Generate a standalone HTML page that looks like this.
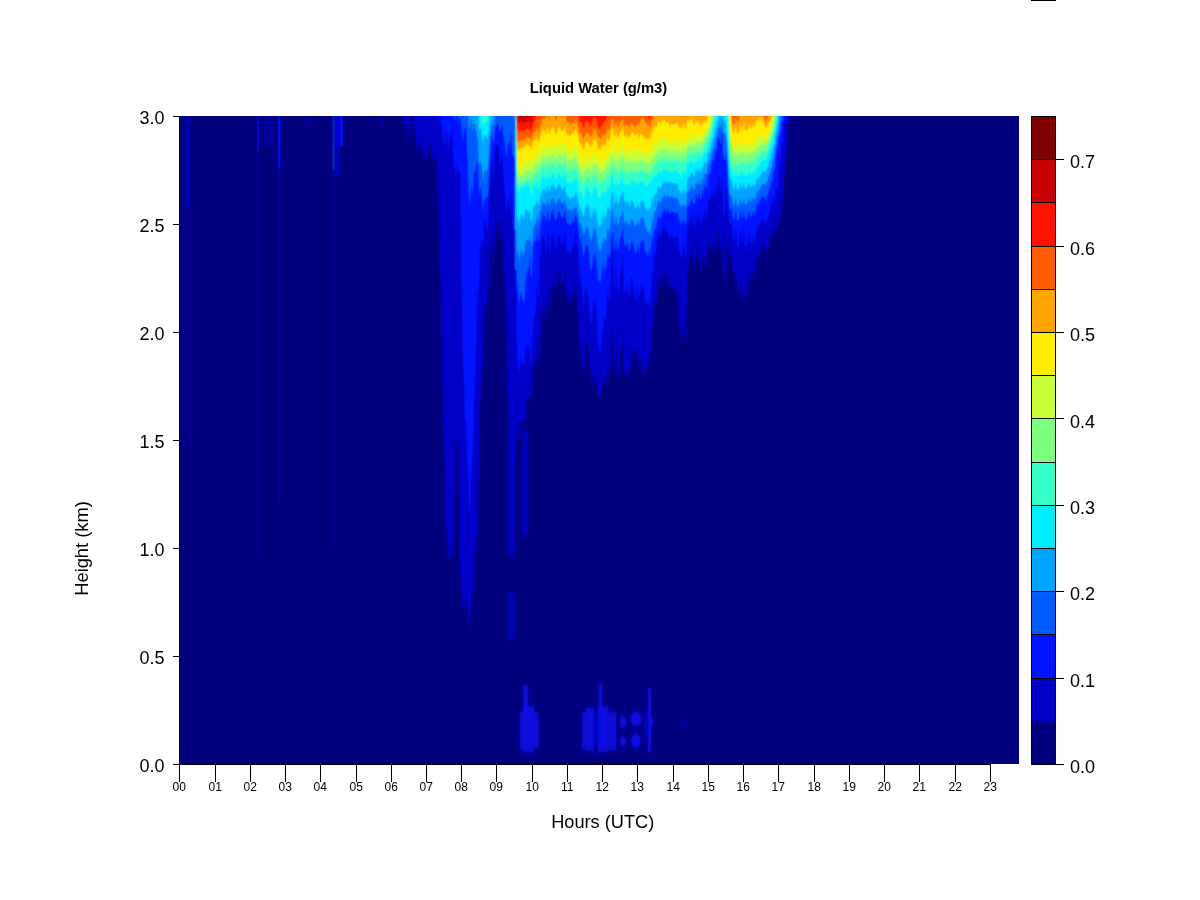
<!DOCTYPE html>
<html lang="en"><head><meta charset="utf-8"><title>Liquid Water (g/m3)</title>
<style>
html,body{margin:0;padding:0;background:#fff;}
body{width:1200px;height:900px;position:relative;overflow:hidden;font-family:"Liberation Sans",Arial,sans-serif;}
</style></head><body>
<svg width="1200" height="900" viewBox="0 0 1200 900" style="position:absolute;left:0;top:0">
<defs><filter id="bl" x="-2%" y="-2%" width="104%" height="104%"><feGaussianBlur stdDeviation="0.8"/></filter><filter id="bl2" x="-2%" y="-2%" width="104%" height="104%"><feGaussianBlur stdDeviation="1.3 2.5"/></filter><clipPath id="cp"><rect x="179.0" y="116.0" width="840.0" height="648.0"/></clipPath></defs>
<rect x="179.0" y="116.0" width="840.0" height="648.0" fill="#00007F"/>
<g clip-path="url(#cp)"><g>
<path d="M403.5 110.0L404.0 117.3L405.0 129.0L406.0 125.7L407.0 125.1L408.0 134.7L409.0 139.1L410.0 122.1L410.5 110.0ZM412.5 110.0L413.0 124.7L414.0 128.9L415.0 131.5L416.0 149.9L417.0 138.9L418.0 154.3L419.0 147.8L420.0 141.1L421.0 140.0L422.0 145.6L423.0 162.7L424.0 148.7L425.0 155.0L426.0 160.4L427.0 152.2L428.0 155.1L429.0 141.5L430.0 137.2L431.0 142.7L432.0 161.5L433.0 158.6L434.0 152.9L435.0 162.7L436.0 161.9L437.0 156.2L438.0 175.1L439.0 222.8L440.0 246.8L441.0 297.9L442.0 342.6L443.0 399.6L444.0 440.4L445.0 464.9L446.0 534.3L447.0 522.4L448.0 540.7L449.0 559.6L450.0 538.5L451.0 545.9L452.0 531.5L453.0 557.3L454.0 504.0L455.0 431.6L456.0 445.3L457.0 425.1L458.0 434.4L459.0 505.0L460.0 573.1L461.0 575.7L462.0 598.7L463.0 612.8L464.0 598.7L465.0 606.2L466.0 582.8L467.0 602.7L468.0 608.4L469.0 627.2L470.0 628.9L471.0 597.6L472.0 589.0L473.0 590.0L474.0 553.5L475.0 551.9L476.0 541.9L477.0 536.2L478.0 486.6L479.0 469.8L480.0 404.9L481.0 380.3L482.0 366.4L483.0 367.2L484.0 317.7L485.0 309.0L486.0 303.4L487.0 304.5L488.0 291.4L489.0 282.9L490.0 248.8L491.0 237.7L492.0 236.1L493.0 256.8L494.0 265.4L495.0 230.6L496.0 220.4L497.0 220.4L498.0 218.5L499.0 231.2L500.0 240.6L501.0 232.5L502.0 221.9L503.0 241.0L504.0 261.5L505.0 283.0L506.0 315.8L507.0 359.2L508.0 398.2L509.0 430.8L510.0 442.5L511.0 419.4L512.0 450.6L513.0 457.0L514.0 458.8L515.0 455.9L516.0 436.8L517.0 433.3L518.0 422.1L519.0 442.6L520.0 426.1L521.0 417.8L522.0 422.4L523.0 420.8L524.0 426.3L525.0 411.5L526.0 401.5L527.0 401.4L528.0 396.2L529.0 399.3L530.0 387.6L531.0 400.9L532.0 394.3L533.0 372.9L534.0 364.1L535.0 359.7L536.0 353.2L537.0 337.4L538.0 357.6L539.0 368.0L540.0 342.3L541.0 332.3L542.0 311.3L543.0 302.9L544.0 309.3L545.0 306.1L546.0 326.4L547.0 302.0L548.0 284.8L549.0 317.4L550.0 306.3L551.0 282.8L552.0 288.7L553.0 271.9L554.0 279.3L555.0 292.0L556.0 287.3L557.0 283.4L558.0 272.0L559.0 272.6L560.0 269.3L561.0 283.4L562.0 281.1L563.0 285.3L564.0 274.2L565.0 268.7L566.0 286.0L567.0 297.7L568.0 296.8L569.0 298.1L570.0 302.0L571.0 303.6L572.0 290.0L573.0 296.8L574.0 296.0L575.0 283.5L576.0 280.3L577.0 296.8L578.0 306.0L579.0 331.7L580.0 356.0L581.0 342.2L582.0 361.4L583.0 372.9L584.0 375.4L585.0 350.5L586.0 339.5L587.0 340.5L588.0 342.3L589.0 349.9L590.0 364.4L591.0 382.7L592.0 387.7L593.0 370.7L594.0 372.8L595.0 385.6L596.0 361.0L597.0 379.5L598.0 398.5L599.0 397.5L600.0 396.7L601.0 391.4L602.0 374.5L603.0 387.9L604.0 373.0L605.0 382.5L606.0 390.9L607.0 367.6L608.0 359.7L609.0 379.0L610.0 372.2L611.0 341.4L612.0 328.4L613.0 330.6L614.0 364.9L615.0 371.9L616.0 344.1L617.0 364.9L618.0 379.9L619.0 368.0L620.0 350.7L621.0 356.8L622.0 342.9L623.0 334.1L624.0 375.1L625.0 373.2L626.0 363.8L627.0 379.5L628.0 363.1L629.0 375.7L630.0 379.3L631.0 353.0L632.0 347.6L633.0 349.3L634.0 347.0L635.0 360.4L636.0 351.2L637.0 354.1L638.0 344.6L639.0 375.3L640.0 362.3L641.0 358.3L642.0 363.7L643.0 377.6L644.0 361.8L645.0 378.9L646.0 369.3L647.0 367.2L648.0 369.0L649.0 349.4L650.0 360.5L651.0 342.0L652.0 318.9L653.0 332.7L654.0 305.3L655.0 301.1L656.0 304.7L657.0 293.8L658.0 276.6L659.0 280.2L660.0 282.8L661.0 290.8L662.0 269.9L663.0 278.4L664.0 272.2L665.0 268.2L666.0 283.1L667.0 277.3L668.0 274.6L669.0 283.2L670.0 291.7L671.0 282.1L672.0 287.6L673.0 286.5L674.0 286.5L675.0 293.9L676.0 287.7L677.0 290.2L678.0 291.0L679.0 317.5L680.0 320.4L681.0 331.9L682.0 344.0L683.0 322.6L684.0 333.8L685.0 340.0L686.0 326.4L687.0 281.8L688.0 262.4L689.0 267.9L690.0 256.0L691.0 253.8L692.0 247.0L693.0 258.9L694.0 264.4L695.0 266.2L696.0 245.1L697.0 255.7L698.0 260.2L699.0 247.0L700.0 264.9L701.0 272.6L702.0 251.2L703.0 265.8L704.0 255.6L705.0 252.4L706.0 267.9L707.0 266.9L708.0 242.6L709.0 244.8L710.0 250.1L711.0 244.9L712.0 238.0L713.0 241.1L714.0 257.8L715.0 236.3L716.0 249.2L717.0 248.9L718.0 228.7L719.0 233.9L720.0 247.2L721.0 249.4L722.0 232.9L723.0 269.0L724.0 275.5L725.0 279.1L726.0 244.2L727.0 239.3L728.0 234.3L729.0 260.3L730.0 257.4L731.0 251.8L732.0 258.2L733.0 274.1L734.0 278.9L735.0 267.6L736.0 263.1L737.0 287.6L738.0 289.3L739.0 295.5L740.0 281.5L741.0 274.8L742.0 298.7L743.0 295.0L744.0 276.3L745.0 303.1L746.0 296.2L747.0 293.3L748.0 268.7L749.0 283.3L750.0 268.0L751.0 281.1L752.0 275.9L753.0 268.2L754.0 269.8L755.0 276.9L756.0 262.7L757.0 254.2L758.0 260.3L759.0 255.3L760.0 249.7L761.0 248.6L762.0 245.4L763.0 246.3L764.0 247.9L765.0 247.2L766.0 254.4L767.0 246.8L768.0 247.0L769.0 240.3L770.0 240.2L771.0 232.8L772.0 234.0L773.0 226.6L774.0 237.5L775.0 234.7L776.0 221.4L777.0 222.4L778.0 233.6L779.0 209.3L780.0 221.5L781.0 209.1L782.0 197.6L783.0 202.7L784.0 179.4L785.0 165.3L786.0 157.7L787.0 148.9L788.0 124.2L789.0 121.9L790.0 116.3L790.5 110.0Z" fill="#0000C8"/>
<path d="M422.5 110.0L423.0 117.1L423.5 110.0ZM437.5 110.0L438.0 118.2L439.0 127.2L439.5 110.0ZM440.5 110.0L441.0 122.9L442.0 127.0L443.0 143.4L444.0 143.6L445.0 127.5L446.0 156.3L447.0 131.4L448.0 136.7L449.0 155.4L450.0 134.1L451.0 141.3L452.0 126.7L453.0 152.3L454.0 169.0L455.0 166.6L456.0 181.0L457.0 161.4L458.0 171.4L459.0 172.5L460.0 171.1L461.0 234.7L462.0 318.7L463.0 366.1L464.0 385.3L465.0 426.2L466.0 417.4L467.0 451.9L468.0 472.2L469.0 505.6L470.0 521.9L471.0 480.0L472.0 460.8L473.0 451.2L474.0 404.1L475.0 391.9L476.0 351.9L477.0 316.2L478.0 288.3L479.0 293.1L480.0 249.9L481.0 239.6L482.0 239.9L483.0 254.9L484.0 219.7L485.0 220.7L486.0 224.8L487.0 232.7L488.0 227.3L489.0 212.6L490.0 176.4L491.0 158.5L492.0 157.5L493.0 176.3L494.0 184.4L495.0 153.9L496.0 145.3L497.0 145.8L498.0 144.6L499.0 157.2L500.0 167.2L501.0 161.3L502.0 152.8L503.0 171.7L504.0 181.5L505.0 193.0L506.0 215.8L507.0 209.6L508.0 199.0L509.0 204.8L510.0 212.5L511.0 189.7L512.0 221.3L513.0 228.0L514.0 230.5L515.0 228.4L516.0 274.6L517.0 368.9L518.0 359.2L519.0 381.1L520.0 366.1L521.0 358.0L522.0 363.0L523.0 361.7L524.0 367.6L525.0 354.3L526.0 345.2L527.0 347.8L528.0 344.4L529.0 353.1L530.0 340.0L531.0 370.3L532.0 362.1L533.0 329.5L534.0 319.1L535.0 315.3L536.0 308.1L537.0 284.1L538.0 296.1L539.0 295.9L540.0 261.9L541.0 254.8L542.0 238.3L543.0 233.4L544.0 241.1L545.0 240.6L546.0 258.4L547.0 241.2L548.0 230.2L549.0 256.1L550.0 249.9L551.0 234.2L552.0 240.6L553.0 229.6L554.0 237.5L555.0 250.1L556.0 248.7L557.0 245.2L558.0 235.5L559.0 235.8L560.0 232.8L561.0 244.1L562.0 242.0L563.0 245.2L564.0 236.0L565.0 231.0L566.0 244.2L567.0 252.8L568.0 251.5L569.0 251.9L570.0 254.3L571.0 254.9L572.0 244.0L573.0 248.2L574.0 246.6L575.0 236.0L576.0 232.6L577.0 244.1L578.0 250.1L579.0 268.8L580.0 287.5L581.0 275.2L582.0 290.5L583.0 304.4L584.0 310.4L585.0 293.3L586.0 286.7L587.0 290.4L588.0 294.4L589.0 304.6L590.0 315.0L591.0 325.7L592.0 322.9L593.0 301.4L594.0 297.2L595.0 314.3L596.0 296.1L597.0 318.7L598.0 343.5L599.0 349.0L600.0 353.9L601.0 351.7L602.0 326.5L603.0 337.4L604.0 316.4L605.0 319.3L606.0 320.8L607.0 297.9L608.0 288.7L609.0 304.1L610.0 295.9L611.0 265.6L612.0 251.4L613.0 253.1L614.0 284.9L615.0 291.4L616.0 265.0L617.0 284.6L618.0 298.9L619.0 287.3L620.0 270.5L621.0 276.2L622.0 262.4L623.0 253.5L624.0 293.9L625.0 292.2L626.0 282.9L627.0 298.4L628.0 282.5L629.0 294.8L630.0 298.3L631.0 277.7L632.0 277.3L633.0 283.5L634.0 286.1L635.0 302.6L636.0 298.4L637.0 297.1L638.0 284.3L639.0 308.1L640.0 291.8L641.0 283.9L642.0 284.9L643.0 294.6L644.0 283.8L645.0 305.5L646.0 300.9L647.0 303.9L648.0 310.7L649.0 296.3L650.0 311.9L651.0 293.0L652.0 270.7L653.0 281.6L654.0 256.4L655.0 252.6L656.0 254.5L657.0 245.4L658.0 231.9L659.0 234.4L660.0 236.1L661.0 241.6L662.0 226.6L663.0 232.5L664.0 227.9L665.0 224.9L666.0 235.6L667.0 231.3L668.0 229.2L669.0 235.4L670.0 241.6L671.0 233.9L672.0 237.4L673.0 236.1L674.0 235.5L675.0 240.3L676.0 235.4L677.0 236.6L678.0 236.7L679.0 251.6L680.0 250.8L681.0 256.5L682.0 263.0L683.0 240.5L684.0 245.7L685.0 259.6L686.0 254.9L687.0 229.7L688.0 222.5L689.0 227.5L690.0 219.2L691.0 218.3L692.0 213.9L693.0 222.6L694.0 226.2L695.0 227.1L696.0 210.1L697.0 217.8L698.0 220.7L699.0 209.8L700.0 223.1L701.0 228.5L702.0 211.4L703.0 221.7L704.0 212.7L705.0 209.1L706.0 220.3L707.0 218.5L708.0 198.3L709.0 198.9L710.0 202.1L711.0 196.9L712.0 190.0L713.0 191.4L714.0 204.8L715.0 184.8L716.0 195.3L717.0 194.2L718.0 174.9L719.0 178.8L720.0 190.3L721.0 191.6L722.0 176.2L723.0 209.9L724.0 216.0L725.0 219.3L726.0 188.6L727.0 186.6L728.0 190.7L729.0 220.3L730.0 226.8L731.0 223.3L732.0 229.5L733.0 241.1L734.0 243.5L735.0 232.9L736.0 228.0L737.0 246.0L738.0 245.4L739.0 248.3L740.0 235.8L741.0 229.1L742.0 245.2L743.0 240.5L744.0 225.0L745.0 247.3L746.0 245.5L747.0 246.8L748.0 231.0L749.0 244.3L750.0 233.2L751.0 246.1L752.0 243.4L753.0 236.7L754.0 238.6L755.0 245.6L756.0 232.8L757.0 225.4L758.0 231.4L759.0 227.2L760.0 222.2L761.0 221.4L762.0 218.5L763.0 219.7L764.0 221.4L765.0 221.0L766.0 228.3L767.0 220.2L768.0 219.6L769.0 212.6L770.0 211.8L771.0 204.2L772.0 204.6L773.0 196.3L774.0 205.9L775.0 202.5L776.0 187.6L777.0 188.2L778.0 194.2L779.0 165.0L780.0 169.2L781.0 152.8L782.0 142.3L783.0 143.2L784.0 125.2L785.0 119.6L786.0 118.7L787.0 119.3L787.5 110.0Z" fill="#0012FF"/>
<path d="M445.5 110.0L446.0 116.9L446.5 110.0ZM453.5 110.0L454.0 118.7L455.0 117.3L456.0 123.4L456.5 110.0ZM457.5 110.0L458.0 118.7L459.0 119.0L460.0 118.2L461.0 118.9L462.0 132.8L463.0 143.8L464.0 126.7L465.0 131.2L466.0 118.6L467.0 149.3L468.0 165.8L469.0 195.4L470.0 207.9L471.0 185.4L472.0 185.6L473.0 195.4L474.0 167.7L475.0 174.9L476.0 166.4L477.0 162.2L478.0 163.9L479.0 198.5L480.0 188.1L481.0 188.9L482.0 197.3L483.0 213.0L484.0 201.2L485.0 198.2L486.0 196.6L487.0 197.9L488.0 192.5L489.0 176.7L490.0 151.4L491.0 135.6L492.0 134.3L493.0 140.7L494.0 143.2L495.0 130.0L496.0 125.4L497.0 124.6L498.0 123.0L499.0 128.5L500.0 133.2L501.0 129.4L502.0 123.3L503.0 133.6L504.0 137.9L505.0 143.3L506.0 157.6L507.0 151.4L508.0 141.5L509.0 144.0L510.0 148.0L511.0 127.5L512.0 152.2L513.0 156.4L514.0 158.0L515.0 155.6L516.0 200.0L517.0 290.3L518.0 283.8L519.0 308.2L520.0 296.6L521.0 290.8L522.0 297.8L523.0 298.7L524.0 306.4L525.0 289.2L526.0 275.9L527.0 274.0L528.0 266.2L529.0 270.5L530.0 253.2L531.0 279.3L532.0 274.7L533.0 247.6L534.0 241.6L535.0 241.5L536.0 238.2L537.0 227.6L538.0 241.0L539.0 242.3L540.0 226.4L541.0 223.2L542.0 215.9L543.0 213.4L544.0 216.4L545.0 215.8L546.0 223.6L547.0 215.5L548.0 209.9L549.0 222.4L550.0 219.4L551.0 211.2L552.0 214.6L553.0 208.4L554.0 212.8L555.0 220.5L556.0 220.1L557.0 217.9L558.0 212.0L559.0 212.3L560.0 210.7L561.0 217.6L562.0 216.5L563.0 218.5L564.0 213.2L565.0 210.6L566.0 218.5L567.0 223.5L568.0 223.0L569.0 223.4L570.0 224.9L571.0 225.4L572.0 220.0L573.0 222.3L574.0 221.7L575.0 216.6L576.0 215.1L577.0 221.1L578.0 224.3L579.0 233.7L580.0 243.0L581.0 237.3L582.0 244.9L583.0 253.6L584.0 258.5L585.0 248.8L586.0 243.8L587.0 244.8L588.0 245.8L589.0 251.6L590.0 262.3L591.0 271.1L592.0 269.1L593.0 255.4L594.0 252.7L595.0 262.2L596.0 249.8L597.0 262.9L598.0 278.9L599.0 281.3L600.0 283.0L601.0 278.1L602.0 261.9L603.0 275.0L604.0 263.0L605.0 268.0L606.0 270.7L607.0 256.7L608.0 251.4L609.0 259.8L610.0 255.0L611.0 238.8L612.0 231.6L613.0 231.9L614.0 247.3L615.0 250.0L616.0 236.2L617.0 245.3L618.0 251.8L619.0 245.5L620.0 236.6L621.0 238.8L622.0 231.5L623.0 226.6L624.0 245.7L625.0 245.5L626.0 241.6L627.0 249.8L628.0 242.5L629.0 249.2L630.0 251.6L631.0 241.4L632.0 240.9L633.0 244.0L634.0 244.8L635.0 255.2L636.0 251.1L637.0 250.3L638.0 241.6L639.0 256.5L640.0 245.6L641.0 240.2L642.0 239.7L643.0 243.3L644.0 239.2L645.0 252.2L646.0 250.7L647.0 253.2L648.0 257.9L649.0 247.3L650.0 257.8L651.0 247.2L652.0 234.7L653.0 244.9L654.0 231.0L655.0 228.5L656.0 229.3L657.0 223.6L658.0 215.7L659.0 216.5L660.0 216.8L661.0 219.2L662.0 210.6L663.0 213.2L664.0 210.2L665.0 208.1L666.0 213.2L667.0 210.3L668.0 208.7L669.0 211.4L670.0 214.1L671.0 210.3L672.0 212.3L673.0 211.9L674.0 211.8L675.0 214.4L676.0 212.2L677.0 213.1L678.0 213.4L679.0 220.8L680.0 220.6L681.0 223.3L682.0 226.2L683.0 218.0L684.0 220.6L685.0 224.8L686.0 222.4L687.0 209.9L688.0 204.6L689.0 207.0L690.0 201.8L691.0 200.9L692.0 197.8L693.0 202.5L694.0 204.0L695.0 203.7L696.0 193.1L697.0 196.9L698.0 197.8L699.0 190.9L700.0 197.7L701.0 199.9L702.0 189.7L703.0 193.9L704.0 187.7L705.0 184.5L706.0 189.1L707.0 186.8L708.0 174.7L709.0 173.7L710.0 174.0L711.0 168.1L712.0 161.1L713.0 158.7L714.0 163.2L715.0 148.6L716.0 151.6L717.0 149.6L718.0 136.5L719.0 137.4L720.0 143.1L721.0 142.5L722.0 133.0L723.0 154.4L724.0 158.4L725.0 160.7L726.0 152.0L727.0 162.1L728.0 178.0L729.0 204.2L730.0 210.7L731.0 208.0L732.0 211.6L733.0 219.0L734.0 220.2L735.0 213.2L736.0 210.0L737.0 220.5L738.0 219.8L739.0 221.1L740.0 214.1L741.0 210.5L742.0 218.6L743.0 216.3L744.0 209.0L745.0 219.4L746.0 218.4L747.0 219.2L748.0 210.0L749.0 217.6L750.0 210.0L751.0 218.0L752.0 215.7L753.0 211.0L754.0 212.2L755.0 217.1L756.0 208.0L757.0 202.5L758.0 206.7L759.0 203.6L760.0 199.8L761.0 198.8L762.0 196.2L763.0 196.7L764.0 197.6L765.0 197.0L766.0 202.4L767.0 195.7L768.0 194.9L769.0 189.1L770.0 188.1L771.0 182.1L772.0 182.0L773.0 170.9L774.0 172.8L775.0 165.2L776.0 149.5L777.0 144.8L778.0 149.1L779.0 131.6L780.0 133.4L781.0 124.4L782.0 119.7L783.0 119.7L783.5 110.0Z" fill="#005BFF"/>
<path d="M468.5 110.0L469.0 125.6L470.0 128.9L471.0 117.6L472.0 121.8L473.0 132.0L474.0 118.6L475.0 127.1L476.0 130.2L477.0 136.1L478.0 141.4L479.0 165.1L480.0 161.8L481.0 162.8L482.0 169.6L483.0 184.4L484.0 171.8L485.0 170.2L486.0 169.9L487.0 172.4L488.0 167.5L489.0 155.4L490.0 135.5L491.0 124.4L492.0 122.4L493.0 125.2L494.0 125.4L494.5 110.0ZM505.5 110.0L506.0 117.9L506.5 110.0ZM512.5 110.0L513.0 116.5L514.0 117.2L514.5 110.0ZM515.5 110.0L516.0 168.4L517.0 255.6L518.0 249.7L519.0 264.6L520.0 254.6L521.0 249.1L522.0 253.0L523.0 252.2L524.0 257.0L525.0 246.5L526.0 239.8L527.0 241.1L528.0 238.3L529.0 242.1L530.0 234.0L531.0 246.4L532.0 243.0L533.0 229.8L534.0 225.9L535.0 224.6L536.0 221.8L537.0 215.5L538.0 220.4L539.0 220.6L540.0 211.5L541.0 209.2L542.0 204.3L543.0 202.4L544.0 203.9L545.0 203.2L546.0 207.9L547.0 202.3L548.0 198.3L549.0 206.4L550.0 204.2L551.0 198.4L552.0 200.6L553.0 196.0L554.0 198.9L555.0 204.3L556.0 203.9L557.0 202.6L558.0 198.4L559.0 198.9L560.0 197.9L561.0 203.3L562.0 202.6L563.0 204.3L564.0 200.7L565.0 199.1L566.0 205.1L567.0 209.0L568.0 208.8L569.0 209.4L570.0 210.7L571.0 211.3L572.0 208.0L573.0 209.9L574.0 209.8L575.0 206.9L576.0 206.5L577.0 210.7L578.0 213.1L579.0 219.4L580.0 225.4L581.0 222.4L582.0 227.3L583.0 232.7L584.0 235.7L585.0 229.7L586.0 226.4L587.0 227.0L588.0 227.4L589.0 230.8L590.0 236.6L591.0 241.3L592.0 239.0L593.0 229.2L594.0 226.5L595.0 233.5L596.0 226.8L597.0 236.0L598.0 246.5L599.0 249.1L600.0 251.3L601.0 250.2L602.0 239.8L603.0 245.8L604.0 237.5L605.0 239.7L606.0 241.3L607.0 230.9L608.0 226.7L609.0 232.8L610.0 228.9L611.0 216.2L612.0 210.2L613.0 210.8L614.0 222.9L615.0 225.1L616.0 214.8L617.0 221.8L618.0 226.7L619.0 222.2L620.0 215.8L621.0 217.6L622.0 212.6L623.0 209.3L624.0 222.7L625.0 222.4L626.0 219.6L627.0 225.3L628.0 220.1L629.0 224.7L630.0 226.3L631.0 218.8L632.0 218.3L633.0 220.4L634.0 221.0L635.0 227.5L636.0 225.0L637.0 224.4L638.0 218.9L639.0 227.6L640.0 220.9L641.0 217.4L642.0 216.9L643.0 218.8L644.0 217.6L645.0 226.6L646.0 227.0L647.0 229.7L648.0 233.8L649.0 228.7L650.0 236.3L651.0 228.0L652.0 218.2L653.0 223.8L654.0 212.6L655.0 210.7L656.0 211.2L657.0 206.8L658.0 200.4L659.0 201.1L660.0 201.3L661.0 203.3L662.0 196.3L663.0 198.4L664.0 196.0L665.0 194.2L666.0 198.3L667.0 196.0L668.0 194.6L669.0 196.7L670.0 198.8L671.0 195.8L672.0 197.4L673.0 197.0L674.0 197.0L675.0 199.1L676.0 197.3L677.0 198.0L678.0 198.3L679.0 204.0L680.0 204.0L681.0 206.1L682.0 208.4L683.0 202.4L684.0 204.4L685.0 207.3L686.0 205.1L687.0 195.2L688.0 190.8L689.0 192.6L690.0 188.3L691.0 187.5L692.0 184.9L693.0 188.7L694.0 189.8L695.0 189.5L696.0 181.1L697.0 183.9L698.0 184.5L699.0 179.2L700.0 184.0L701.0 185.3L702.0 177.8L703.0 180.1L704.0 175.1L705.0 172.3L706.0 174.4L707.0 172.1L708.0 164.1L709.0 162.7L710.0 162.0L711.0 156.8L712.0 151.3L713.0 148.0L714.0 147.7L715.0 138.9L716.0 137.8L717.0 135.2L718.0 128.0L719.0 126.6L720.0 127.3L721.0 125.3L722.0 121.4L723.0 131.1L724.0 133.2L725.0 134.5L726.0 139.0L727.0 151.6L728.0 165.9L729.0 189.5L730.0 196.9L731.0 194.6L732.0 198.1L733.0 204.7L734.0 205.6L735.0 199.7L736.0 197.2L737.0 205.9L738.0 205.3L739.0 206.3L740.0 200.9L741.0 198.2L742.0 204.5L743.0 202.6L744.0 196.9L745.0 204.6L746.0 203.7L747.0 204.0L748.0 196.7L749.0 202.4L750.0 196.7L751.0 202.4L752.0 200.6L753.0 197.1L754.0 197.8L755.0 201.0L756.0 194.4L757.0 190.4L758.0 193.2L759.0 190.8L760.0 188.0L761.0 186.7L762.0 184.4L763.0 184.1L764.0 184.2L765.0 183.1L766.0 186.4L767.0 180.9L768.0 179.5L769.0 174.6L770.0 173.1L771.0 167.8L772.0 167.0L773.0 158.7L774.0 157.9L775.0 151.1L776.0 141.0L777.0 135.6L778.0 133.7L779.0 123.7L780.0 121.4L780.5 110.0Z" fill="#00A4FF"/>
<path d="M478.5 110.0L479.0 130.0L480.0 128.2L481.0 128.8L482.0 134.3L483.0 146.6L484.0 135.6L485.0 135.5L486.0 136.3L487.0 139.2L488.0 136.0L489.0 129.6L490.0 116.6L490.5 110.0ZM515.5 110.0L516.0 150.2L517.0 221.7L518.0 215.7L519.0 228.0L520.0 218.7L521.0 213.8L522.0 216.8L523.0 216.0L524.0 219.7L525.0 212.5L526.0 208.3L527.0 210.8L528.0 209.8L529.0 214.7L530.0 209.1L531.0 222.2L532.0 220.0L533.0 208.6L534.0 205.9L535.0 205.6L536.0 204.0L537.0 198.8L538.0 204.4L539.0 205.5L540.0 197.5L541.0 195.2L542.0 190.4L543.0 188.5L544.0 190.0L545.0 189.3L546.0 193.8L547.0 188.4L548.0 184.6L549.0 192.1L550.0 190.0L551.0 184.7L552.0 186.5L553.0 182.4L554.0 185.0L555.0 189.6L556.0 189.1L557.0 188.1L558.0 184.5L559.0 185.0L560.0 184.1L561.0 189.0L562.0 188.5L563.0 190.2L564.0 186.7L565.0 185.4L566.0 191.6L567.0 195.9L568.0 196.1L569.0 196.9L570.0 198.7L571.0 199.6L572.0 196.0L573.0 197.5L574.0 196.9L575.0 193.0L576.0 192.0L577.0 196.2L578.0 198.4L579.0 204.7L580.0 210.8L581.0 206.9L582.0 211.7L583.0 215.5L584.0 216.8L585.0 209.4L586.0 205.1L587.0 204.5L588.0 203.8L589.0 205.9L590.0 212.2L591.0 217.7L592.0 217.1L593.0 209.3L594.0 208.3L595.0 214.1L596.0 206.6L597.0 214.6L598.0 224.0L599.0 225.5L600.0 226.6L601.0 224.2L602.0 214.5L603.0 221.4L604.0 213.9L605.0 216.6L606.0 218.4L607.0 209.0L608.0 205.4L609.0 210.9L610.0 207.6L611.0 196.6L612.0 191.6L613.0 192.0L614.0 202.4L615.0 204.3L616.0 195.3L617.0 201.4L618.0 205.7L619.0 201.6L620.0 196.0L621.0 197.5L622.0 193.0L623.0 190.0L624.0 202.0L625.0 202.0L626.0 199.7L627.0 205.0L628.0 200.5L629.0 204.8L630.0 206.5L631.0 200.0L632.0 199.9L633.0 202.1L634.0 202.9L635.0 209.2L636.0 207.2L637.0 206.7L638.0 201.8L639.0 210.1L640.0 203.9L641.0 200.8L642.0 200.4L643.0 202.4L644.0 200.4L645.0 208.3L646.0 207.6L647.0 209.2L648.0 212.2L649.0 205.3L650.0 212.0L651.0 205.1L652.0 196.7L653.0 204.3L654.0 194.6L655.0 193.7L656.0 195.2L657.0 191.8L658.0 186.4L659.0 187.1L660.0 187.4L661.0 189.2L662.0 182.5L663.0 184.5L664.0 182.2L665.0 180.5L666.0 184.2L667.0 182.0L668.0 180.8L669.0 182.5L670.0 184.1L671.0 181.6L672.0 183.1L673.0 182.9L674.0 182.9L675.0 184.9L676.0 183.3L677.0 184.0L678.0 184.3L679.0 190.0L680.0 190.1L681.0 192.4L682.0 194.9L683.0 188.3L684.0 190.5L685.0 193.8L686.0 191.5L687.0 181.2L688.0 176.8L689.0 178.6L690.0 174.5L691.0 173.7L692.0 171.3L693.0 174.9L694.0 176.0L695.0 175.9L696.0 168.2L697.0 170.9L698.0 171.5L699.0 166.8L700.0 171.3L701.0 172.6L702.0 165.8L703.0 168.0L704.0 163.5L705.0 161.0L706.0 163.0L707.0 161.0L708.0 153.7L709.0 152.6L710.0 152.0L711.0 146.9L712.0 141.5L713.0 138.2L714.0 137.6L715.0 129.2L716.0 127.8L717.0 124.9L718.0 118.1L719.0 116.3L719.5 110.0ZM722.5 110.0L723.0 118.0L724.0 119.6L725.0 120.6L726.0 126.7L727.0 137.3L728.0 146.5L729.0 170.7L730.0 180.9L731.0 178.8L732.0 182.3L733.0 188.5L734.0 189.5L735.0 183.9L736.0 181.5L737.0 189.8L738.0 189.2L739.0 190.2L740.0 184.9L741.0 182.2L742.0 188.5L743.0 186.6L744.0 181.1L745.0 188.7L746.0 188.0L747.0 188.5L748.0 181.8L749.0 187.5L750.0 182.3L751.0 188.0L752.0 186.5L753.0 183.3L754.0 184.0L755.0 187.2L756.0 181.0L757.0 177.2L758.0 180.0L759.0 177.8L760.0 175.2L761.0 174.0L762.0 171.8L763.0 171.5L764.0 171.5L765.0 170.4L766.0 173.0L767.0 167.8L768.0 166.1L769.0 161.4L770.0 159.6L771.0 154.6L772.0 153.4L773.0 146.4L774.0 146.2L775.0 140.6L776.0 131.9L777.0 127.6L778.0 125.2L778.5 110.0Z" fill="#00EDFF"/>
<path d="M481.5 110.0L482.0 118.8L483.0 126.7L484.0 122.8L485.0 121.7L486.0 121.1L487.0 121.7L488.0 119.2L488.5 110.0ZM515.5 110.0L516.0 131.9L517.0 190.9L518.0 187.1L519.0 194.8L520.0 189.1L521.0 185.8L522.0 187.4L523.0 186.6L524.0 188.6L525.0 184.7L526.0 182.5L527.0 184.6L528.0 184.5L529.0 188.5L530.0 185.1L531.0 195.7L532.0 194.7L533.0 186.4L534.0 184.9L535.0 185.3L536.0 184.7L537.0 181.1L538.0 187.1L539.0 189.3L540.0 183.4L541.0 181.4L542.0 177.2L543.0 175.7L544.0 177.2L545.0 176.8L546.0 180.9L547.0 176.3L548.0 173.1L549.0 179.9L550.0 178.2L551.0 173.7L552.0 175.5L553.0 172.1L554.0 174.5L555.0 178.7L556.0 178.5L557.0 177.4L558.0 174.1L559.0 174.3L560.0 173.3L561.0 177.5L562.0 176.9L563.0 178.1L564.0 174.9L565.0 173.3L566.0 178.5L567.0 182.0L568.0 181.8L569.0 182.3L570.0 183.5L571.0 184.1L572.0 180.0L573.0 181.5L574.0 180.9L575.0 177.3L576.0 176.4L577.0 180.5L578.0 182.7L579.0 188.6L580.0 194.1L581.0 190.7L582.0 195.0L583.0 197.6L584.0 198.0L585.0 191.7L586.0 188.1L587.0 187.5L588.0 187.0L589.0 188.4L590.0 191.7L591.0 194.9L592.0 193.8L593.0 187.1L594.0 185.5L595.0 189.8L596.0 183.4L597.0 189.4L598.0 196.3L599.0 197.1L600.0 197.7L601.0 195.7L602.0 189.1L603.0 194.9L604.0 190.0L605.0 192.8L606.0 195.0L607.0 188.0L608.0 185.4L609.0 189.9L610.0 187.5L611.0 179.1L612.0 175.3L613.0 175.8L614.0 184.1L615.0 185.6L616.0 178.7L617.0 183.5L618.0 186.9L619.0 183.9L620.0 179.7L621.0 180.9L622.0 177.6L623.0 175.4L624.0 184.5L625.0 184.3L626.0 182.4L627.0 186.2L628.0 182.6L629.0 185.8L630.0 186.9L631.0 181.0L632.0 180.1L633.0 181.0L634.0 180.8L635.0 185.2L636.0 182.6L637.0 182.9L638.0 179.4L639.0 187.2L640.0 182.6L641.0 180.6L642.0 181.1L643.0 183.5L644.0 180.7L645.0 186.3L646.0 184.7L647.0 185.1L648.0 186.6L649.0 180.5L650.0 184.9L651.0 180.6L652.0 175.0L653.0 182.2L654.0 175.5L655.0 175.2L656.0 177.2L657.0 174.8L658.0 170.7L659.0 171.7L660.0 172.4L661.0 174.6L662.0 168.8L663.0 171.1L664.0 169.4L665.0 168.4L666.0 172.1L667.0 170.6L668.0 169.9L669.0 171.8L670.0 173.6L671.0 171.0L672.0 171.9L673.0 171.2L674.0 170.8L675.0 172.1L676.0 170.3L677.0 170.4L678.0 170.2L679.0 174.5L680.0 173.7L681.0 175.0L682.0 176.4L683.0 169.4L684.0 170.5L685.0 174.6L686.0 173.4L687.0 165.2L688.0 162.3L689.0 164.5L690.0 161.6L691.0 161.5L692.0 160.0L693.0 163.1L694.0 164.1L695.0 164.0L696.0 157.6L697.0 159.9L698.0 160.5L699.0 156.6L700.0 160.3L701.0 161.4L702.0 155.8L703.0 157.3L704.0 153.4L705.0 151.0L706.0 152.5L707.0 150.5L708.0 144.0L709.0 142.7L710.0 142.0L711.0 136.7L712.0 131.0L713.0 127.3L714.0 126.2L715.0 117.6L715.5 110.0ZM727.5 110.0L728.0 116.9L729.0 148.9L730.0 167.3L731.0 166.9L732.0 171.1L733.0 175.8L734.0 176.4L735.0 171.9L736.0 169.8L737.0 176.2L738.0 175.6L739.0 176.2L740.0 171.8L741.0 169.6L742.0 174.4L743.0 173.2L744.0 169.1L745.0 175.6L746.0 175.1L747.0 175.6L748.0 170.2L749.0 174.6L750.0 170.0L751.0 174.7L752.0 173.2L753.0 170.3L754.0 170.9L755.0 173.6L756.0 168.1L757.0 164.7L758.0 167.1L759.0 165.1L760.0 162.8L761.0 161.9L762.0 160.1L763.0 160.1L764.0 160.2L765.0 159.4L766.0 161.7L767.0 156.8L768.0 154.8L769.0 150.4L770.0 148.3L771.0 143.9L772.0 142.2L773.0 136.0L774.0 135.1L775.0 130.2L776.0 122.4L777.0 118.6L777.5 110.0Z" fill="#36FFC8"/>
<path d="M482.5 110.0L483.0 116.3L483.5 110.0ZM515.5 110.0L516.0 122.9L517.0 183.4L518.0 182.0L519.0 185.3L520.0 183.2L521.0 181.9L522.0 182.6L523.0 182.3L524.0 183.1L525.0 180.9L526.0 179.2L527.0 179.4L528.0 178.6L529.0 180.0L530.0 177.6L531.0 183.0L532.0 181.9L533.0 176.4L534.0 174.9L535.0 174.6L536.0 173.7L537.0 170.7L538.0 174.5L539.0 176.0L540.0 171.1L541.0 169.5L542.0 166.1L543.0 164.8L544.0 166.1L545.0 165.7L546.0 169.3L547.0 165.4L548.0 162.6L549.0 168.5L550.0 167.0L551.0 163.0L552.0 164.5L553.0 161.4L554.0 163.5L555.0 167.5L556.0 167.2L557.0 166.2L558.0 163.1L559.0 163.3L560.0 162.4L561.0 166.3L562.0 165.8L563.0 166.9L564.0 164.0L565.0 162.5L566.0 167.0L567.0 170.0L568.0 169.7L569.0 170.0L570.0 170.9L571.0 171.3L572.0 168.0L573.0 169.4L574.0 169.1L575.0 166.5L576.0 166.0L577.0 169.5L578.0 171.4L579.0 176.2L580.0 180.8L581.0 178.3L582.0 181.9L583.0 184.0L584.0 184.3L585.0 179.7L586.0 177.3L587.0 177.1L588.0 176.9L589.0 178.1L590.0 179.9L591.0 181.4L592.0 180.0L593.0 174.9L594.0 173.2L595.0 176.4L596.0 172.9L597.0 177.1L598.0 181.6L599.0 182.6L600.0 183.4L601.0 182.9L602.0 178.6L603.0 181.4L604.0 177.9L605.0 179.2L606.0 180.3L607.0 175.4L608.0 173.3L609.0 176.3L610.0 174.4L611.0 168.1L612.0 165.1L613.0 165.4L614.0 171.7L615.0 172.9L616.0 167.7L617.0 171.4L618.0 174.1L619.0 171.8L620.0 168.5L621.0 169.6L622.0 166.9L623.0 165.2L624.0 172.7L625.0 172.5L626.0 170.9L627.0 174.0L628.0 171.2L629.0 173.6L630.0 174.5L631.0 170.0L632.0 169.5L633.0 170.2L634.0 170.2L635.0 173.1L636.0 171.6L637.0 171.5L638.0 169.0L639.0 173.8L640.0 170.6L641.0 169.2L642.0 169.3L643.0 171.0L644.0 169.2L645.0 173.2L646.0 172.4L647.0 173.0L648.0 174.3L649.0 171.3L650.0 174.3L651.0 170.9L652.0 166.5L653.0 170.1L654.0 164.9L655.0 164.2L656.0 165.2L657.0 163.0L658.0 159.4L659.0 160.2L660.0 160.8L661.0 162.6L662.0 157.8L663.0 159.7L664.0 158.3L665.0 157.4L666.0 160.7L667.0 159.4L668.0 158.8L669.0 160.6L670.0 162.4L671.0 159.9L672.0 160.7L673.0 160.1L674.0 159.7L675.0 160.8L676.0 159.2L677.0 159.4L678.0 159.2L679.0 162.3L680.0 161.4L681.0 162.1L682.0 162.8L683.0 157.7L684.0 158.3L685.0 161.3L686.0 160.8L687.0 155.2L688.0 153.2L689.0 154.7L690.0 152.3L691.0 152.1L692.0 150.7L693.0 153.3L694.0 154.2L695.0 154.2L696.0 149.0L697.0 150.9L698.0 151.5L699.0 148.3L700.0 151.4L701.0 152.4L702.0 147.8L703.0 148.8L704.0 145.2L705.0 142.9L706.0 143.8L707.0 141.8L708.0 136.3L709.0 134.9L710.0 134.0L711.0 128.6L712.0 122.9L713.0 118.8L714.0 117.0L714.5 110.0ZM728.5 110.0L729.0 131.1L730.0 155.5L731.0 156.3L732.0 161.4L733.0 165.6L734.0 166.2L735.0 162.1L736.0 160.3L737.0 165.9L738.0 165.4L739.0 165.9L740.0 162.2L741.0 160.3L742.0 164.3L743.0 162.9L744.0 158.9L745.0 164.5L746.0 164.3L747.0 164.9L748.0 160.5L749.0 164.0L750.0 159.8L751.0 163.4L752.0 161.9L753.0 159.4L754.0 160.0L755.0 162.3L756.0 157.7L757.0 155.0L758.0 157.0L759.0 155.4L760.0 153.5L761.0 152.7L762.0 151.3L763.0 151.2L764.0 151.3L765.0 150.6L766.0 152.3L767.0 148.4L768.0 146.7L769.0 143.3L770.0 141.6L771.0 138.3L772.0 136.8L773.0 130.3L774.0 127.8L775.0 122.4L775.5 110.0Z" fill="#7FFF7F"/>
<path d="M516.5 110.0L517.0 175.6L518.0 174.4L519.0 177.4L520.0 175.5L521.0 174.3L522.0 174.9L523.0 174.7L524.0 175.4L525.0 173.1L526.0 171.4L527.0 171.3L528.0 170.3L529.0 171.1L530.0 168.7L531.0 172.8L532.0 171.7L533.0 167.0L534.0 165.5L535.0 165.1L536.0 164.1L537.0 161.6L538.0 164.8L539.0 166.1L540.0 161.9L541.0 160.5L542.0 157.4L543.0 156.2L544.0 157.3L545.0 156.9L546.0 160.1L547.0 156.4L548.0 153.8L549.0 159.4L550.0 157.9L551.0 154.0L552.0 155.5L553.0 152.5L554.0 154.5L555.0 158.3L556.0 158.0L557.0 156.9L558.0 153.9L559.0 154.0L560.0 153.0L561.0 156.6L562.0 155.9L563.0 157.0L564.0 154.0L565.0 152.7L566.0 157.0L567.0 159.8L568.0 159.5L569.0 159.8L570.0 160.6L571.0 161.0L572.0 158.0L573.0 159.4L574.0 159.2L575.0 156.9L576.0 156.6L577.0 159.8L578.0 161.6L579.0 166.1L580.0 170.3L581.0 168.2L582.0 171.6L583.0 173.5L584.0 173.8L585.0 169.7L586.0 167.5L587.0 167.4L588.0 167.3L589.0 168.5L590.0 169.9L591.0 171.1L592.0 169.7L593.0 164.8L594.0 163.1L595.0 166.2L596.0 163.0L597.0 167.0L598.0 171.3L599.0 172.3L600.0 173.2L601.0 172.8L602.0 168.8L603.0 171.2L604.0 167.9L605.0 169.0L606.0 169.8L607.0 165.3L608.0 163.3L609.0 165.9L610.0 164.1L611.0 158.4L612.0 155.6L613.0 155.7L614.0 161.3L615.0 162.4L616.0 157.5L617.0 160.8L618.0 163.3L619.0 161.1L620.0 157.9L621.0 158.8L622.0 156.2L623.0 154.5L624.0 161.5L625.0 161.4L626.0 159.9L627.0 162.8L628.0 160.1L629.0 162.5L630.0 163.3L631.0 159.2L632.0 158.9L633.0 159.7L634.0 159.9L635.0 162.9L636.0 161.7L637.0 161.5L638.0 159.2L639.0 163.6L640.0 160.6L641.0 159.1L642.0 159.2L643.0 160.6L644.0 159.1L645.0 162.8L646.0 162.3L647.0 162.9L648.0 164.2L649.0 161.6L650.0 164.4L651.0 161.1L652.0 157.0L653.0 160.1L654.0 155.2L655.0 154.4L656.0 155.1L657.0 153.0L658.0 149.6L659.0 150.4L660.0 151.0L661.0 152.7L662.0 148.4L663.0 150.2L664.0 149.0L665.0 148.2L666.0 151.3L667.0 150.1L668.0 149.6L669.0 151.5L670.0 153.2L671.0 150.9L672.0 151.6L673.0 151.0L674.0 150.7L675.0 151.7L676.0 150.2L677.0 150.3L678.0 150.2L679.0 153.1L680.0 152.2L681.0 152.7L682.0 153.3L683.0 148.8L684.0 149.3L685.0 151.8L686.0 151.3L687.0 146.3L688.0 144.5L689.0 146.1L690.0 144.1L691.0 144.1L692.0 143.1L693.0 145.4L694.0 146.3L695.0 146.3L696.0 141.6L697.0 143.4L698.0 144.0L699.0 141.1L700.0 144.1L701.0 145.0L702.0 140.9L703.0 141.7L704.0 138.4L705.0 136.3L706.0 136.8L707.0 134.9L708.0 130.3L709.0 129.0L710.0 128.0L711.0 122.2L711.5 110.0ZM728.5 110.0L729.0 119.3L730.0 143.6L731.0 145.6L732.0 151.7L733.0 155.5L734.0 155.9L735.0 152.3L736.0 150.7L737.0 155.7L738.0 155.2L739.0 155.7L740.0 152.4L741.0 150.6L742.0 154.3L743.0 153.4L744.0 150.3L745.0 155.3L746.0 155.1L747.0 155.7L748.0 151.5L749.0 154.8L750.0 150.9L751.0 154.1L752.0 152.7L753.0 150.5L754.0 150.9L755.0 153.0L756.0 148.8L757.0 146.3L758.0 148.1L759.0 146.6L760.0 144.9L761.0 144.5L762.0 143.4L763.0 143.6L764.0 143.9L765.0 143.5L766.0 145.1L767.0 141.7L768.0 140.1L769.0 137.0L770.0 135.4L771.0 132.4L772.0 131.0L773.0 123.8L774.0 120.3L774.5 110.0Z" fill="#C8FF36"/>
<path d="M516.5 110.0L517.0 166.7L518.0 164.7L519.0 169.2L520.0 166.1L521.0 164.3L522.0 165.2L523.0 164.8L524.0 166.0L525.0 163.1L526.0 161.1L527.0 161.4L528.0 160.6L529.0 162.1L530.0 159.4L531.0 165.0L532.0 164.0L533.0 158.2L534.0 156.6L535.0 156.4L536.0 155.5L537.0 152.2L538.0 156.7L539.0 158.8L540.0 153.3L541.0 151.4L542.0 147.2L543.0 145.6L544.0 147.1L545.0 146.6L546.0 151.2L547.0 146.1L548.0 142.6L549.0 150.4L550.0 148.5L551.0 143.4L552.0 145.6L553.0 141.5L554.0 144.4L555.0 149.7L556.0 149.5L557.0 147.9L558.0 143.7L559.0 143.8L560.0 142.5L561.0 147.2L562.0 146.3L563.0 147.6L564.0 143.7L565.0 141.8L566.0 147.3L567.0 150.9L568.0 150.4L569.0 150.6L570.0 151.6L571.0 152.0L572.0 148.0L573.0 149.5L574.0 149.0L575.0 145.7L576.0 145.0L577.0 148.9L578.0 150.9L579.0 156.4L580.0 161.6L581.0 158.6L582.0 162.6L583.0 164.9L584.0 165.1L585.0 159.7L586.0 156.9L587.0 156.6L588.0 156.4L589.0 157.8L590.0 159.9L591.0 161.9L592.0 160.7L593.0 155.2L594.0 153.7L595.0 157.0L596.0 152.7L597.0 157.3L598.0 162.2L599.0 163.1L600.0 163.8L601.0 163.0L602.0 158.4L603.0 161.7L604.0 157.9L605.0 159.6L606.0 161.0L607.0 155.6L608.0 153.4L609.0 156.9L610.0 154.8L611.0 147.7L612.0 144.2L613.0 144.5L614.0 151.8L615.0 153.2L616.0 147.0L617.0 151.3L618.0 154.4L619.0 151.6L620.0 147.7L621.0 148.9L622.0 145.7L623.0 143.6L624.0 152.4L625.0 152.1L626.0 150.2L627.0 153.8L628.0 150.4L629.0 153.3L630.0 154.3L631.0 149.0L632.0 148.2L633.0 148.9L634.0 148.8L635.0 152.2L636.0 150.3L637.0 150.6L638.0 148.1L639.0 154.3L640.0 151.0L641.0 149.7L642.0 150.3L643.0 152.7L644.0 150.2L645.0 154.5L646.0 153.2L647.0 153.6L648.0 154.7L649.0 151.0L650.0 154.1L651.0 150.5L652.0 145.6L653.0 150.2L654.0 144.2L655.0 143.6L656.0 145.2L657.0 142.9L658.0 138.7L659.0 139.9L660.0 140.7L661.0 143.2L662.0 137.2L663.0 139.8L664.0 138.1L665.0 137.0L666.0 141.6L667.0 140.0L668.0 139.3L669.0 142.1L670.0 144.8L671.0 141.3L672.0 142.3L673.0 141.5L674.0 140.9L675.0 142.4L676.0 140.3L677.0 140.5L678.0 140.3L679.0 144.6L680.0 143.6L681.0 144.5L682.0 145.6L683.0 139.5L684.0 140.4L685.0 144.3L686.0 144.2L687.0 137.6L688.0 135.5L689.0 137.8L690.0 135.1L691.0 135.2L692.0 133.8L693.0 137.5L694.0 139.0L695.0 139.3L696.0 133.1L697.0 135.9L698.0 136.9L699.0 133.3L700.0 137.6L701.0 139.2L702.0 133.8L703.0 135.9L704.0 132.3L705.0 130.5L706.0 132.0L707.0 130.4L708.0 125.3L709.0 124.5L710.0 124.0L711.0 117.2L711.5 110.0ZM729.5 110.0L730.0 131.9L731.0 134.9L732.0 143.1L733.0 147.8L734.0 148.4L735.0 143.9L736.0 141.8L737.0 148.2L738.0 147.6L739.0 148.2L740.0 143.8L741.0 141.6L742.0 146.4L743.0 144.7L744.0 139.7L745.0 147.0L746.0 146.8L747.0 147.8L748.0 141.9L749.0 146.9L750.0 141.3L751.0 146.4L752.0 144.5L753.0 141.5L754.0 142.5L755.0 145.9L756.0 140.0L757.0 136.5L758.0 139.5L759.0 137.5L760.0 135.2L761.0 135.4L762.0 134.7L763.0 135.6L764.0 136.7L765.0 136.8L766.0 139.3L767.0 135.9L768.0 134.7L769.0 131.8L770.0 130.6L771.0 127.6L772.0 126.7L773.0 118.3L773.5 110.0Z" fill="#FFED00"/>
<path d="M516.5 110.0L517.0 149.6L518.0 147.5L519.0 152.2L520.0 148.9L521.0 147.0L522.0 148.0L523.0 147.6L524.0 148.8L525.0 146.1L526.0 144.3L527.0 145.1L528.0 144.5L529.0 146.4L530.0 143.9L531.0 150.1L532.0 148.8L533.0 142.6L534.0 140.9L535.0 140.5L536.0 139.4L537.0 136.1L538.0 140.8L539.0 143.0L540.0 137.4L541.0 135.4L542.0 130.9L543.0 129.1L544.0 130.8L545.0 130.3L546.0 135.6L547.0 129.9L548.0 125.8L549.0 135.1L550.0 132.9L551.0 127.0L552.0 129.6L553.0 125.0L554.0 128.4L555.0 134.3L556.0 134.1L557.0 132.4L558.0 127.7L559.0 127.7L560.0 126.3L561.0 131.5L562.0 130.5L563.0 131.9L564.0 127.6L565.0 125.5L566.0 131.5L567.0 135.2L568.0 134.6L569.0 134.8L570.0 135.8L571.0 136.0L572.0 132.0L573.0 133.5L574.0 133.0L575.0 129.7L576.0 129.0L577.0 132.9L578.0 134.9L579.0 140.4L580.0 145.6L581.0 142.6L582.0 146.6L583.0 149.1L584.0 149.7L585.0 144.5L586.0 142.0L587.0 142.0L588.0 142.2L589.0 143.8L590.0 145.7L591.0 147.5L592.0 146.1L593.0 140.4L594.0 138.7L595.0 142.2L596.0 138.0L597.0 142.7L598.0 147.8L599.0 148.8L600.0 149.6L601.0 149.0L602.0 144.2L603.0 147.3L604.0 143.3L605.0 144.8L606.0 146.0L607.0 140.4L608.0 138.0L609.0 141.4L610.0 139.2L611.0 131.8L612.0 128.2L613.0 128.5L614.0 135.8L615.0 137.2L616.0 131.0L617.0 135.3L618.0 138.4L619.0 135.6L620.0 131.7L621.0 132.9L622.0 129.7L623.0 127.6L624.0 136.4L625.0 136.1L626.0 134.2L627.0 137.8L628.0 134.4L629.0 137.3L630.0 138.3L631.0 133.0L632.0 132.2L633.0 133.0L634.0 132.9L635.0 136.1L636.0 134.5L637.0 134.7L638.0 132.1L639.0 138.7L640.0 135.2L641.0 133.8L642.0 134.8L643.0 138.4L644.0 134.8L645.0 140.2L646.0 138.5L647.0 138.9L648.0 140.3L649.0 136.3L650.0 140.0L651.0 135.4L652.0 129.6L653.0 133.9L654.0 126.9L655.0 126.2L656.0 127.7L657.0 125.1L658.0 120.7L659.0 121.9L660.0 122.7L661.0 125.2L662.0 119.2L663.0 121.8L664.0 120.1L665.0 119.0L666.0 123.6L667.0 122.0L668.0 121.3L669.0 124.0L670.0 126.7L671.0 123.4L672.0 124.6L673.0 123.9L674.0 123.4L675.0 125.1L676.0 123.1L677.0 123.4L678.0 123.3L679.0 127.8L680.0 127.0L681.0 128.1L682.0 129.3L683.0 123.3L684.0 124.4L685.0 128.6L686.0 128.4L687.0 121.5L688.0 119.2L689.0 122.0L690.0 119.3L691.0 119.7L692.0 118.5L693.0 122.8L694.0 124.8L695.0 125.5L696.0 118.9L697.0 122.4L698.0 123.9L699.0 120.1L700.0 125.4L701.0 127.6L702.0 121.8L703.0 124.9L704.0 121.5L705.0 120.0L706.0 122.8L707.0 121.7L707.5 110.0ZM730.5 110.0L731.0 118.6L732.0 129.1L733.0 133.7L734.0 134.1L735.0 129.1L736.0 126.5L737.0 133.5L738.0 132.6L739.0 133.2L740.0 127.8L741.0 124.8L742.0 130.5L743.0 128.1L744.0 122.1L745.0 130.3L746.0 130.1L747.0 131.3L748.0 124.6L749.0 130.0L750.0 123.7L751.0 128.9L752.0 126.6L753.0 123.5L754.0 124.5L755.0 128.0L756.0 122.0L757.0 118.4L758.0 121.5L759.0 119.5L760.0 117.2L761.0 118.7L762.0 119.3L763.0 121.6L764.0 124.0L765.0 125.5L766.0 129.3L767.0 126.0L768.0 125.1L769.0 122.1L770.0 121.1L771.0 117.9L772.0 117.2L772.5 110.0Z" fill="#FFA400"/>
<path d="M516.5 110.0L517.0 141.3L518.0 139.8L519.0 143.3L520.0 141.0L521.0 139.7L522.0 140.5L523.0 140.2L524.0 141.1L525.0 139.0L526.0 137.6L527.0 137.9L528.0 137.3L529.0 138.5L530.0 136.6L531.0 140.7L532.0 139.5L533.0 134.5L534.0 132.7L535.0 132.0L536.0 130.8L537.0 127.4L538.0 131.1L539.0 132.7L540.0 127.2L541.0 124.8L542.0 120.1L543.0 117.9L544.0 118.7L545.0 117.6L546.0 121.3L546.5 110.0ZM548.5 110.0L549.0 119.4L550.0 117.9L550.5 110.0ZM554.5 110.0L555.0 119.8L556.0 119.8L557.0 118.5L557.5 110.0ZM560.5 110.0L561.0 117.9L562.0 117.1L563.0 118.2L563.5 110.0ZM565.5 110.0L566.0 118.8L567.0 122.3L568.0 122.3L569.0 122.9L570.0 124.2L571.0 124.9L572.0 122.0L573.0 123.4L574.0 123.1L575.0 120.5L576.0 120.1L577.0 123.5L578.0 125.4L579.0 130.2L580.0 134.8L581.0 132.3L582.0 135.9L583.0 138.2L584.0 138.8L585.0 134.5L586.0 132.6L587.0 132.7L588.0 133.0L589.0 134.5L590.0 135.7L591.0 136.9L592.0 135.3L593.0 130.1L594.0 128.3L595.0 131.6L596.0 128.2L597.0 132.5L598.0 137.1L599.0 138.1L600.0 139.1L601.0 138.8L602.0 134.5L603.0 137.0L604.0 133.3L605.0 134.6L606.0 135.8L607.0 130.3L608.0 128.0L609.0 131.1L610.0 128.9L611.0 122.1L612.0 118.7L613.0 119.0L614.0 125.6L615.0 126.8L616.0 121.2L617.0 125.1L618.0 127.8L619.0 125.3L620.0 121.8L621.0 122.8L622.0 120.0L623.0 118.2L624.0 125.8L625.0 125.6L626.0 124.0L627.0 127.1L628.0 124.2L629.0 126.7L630.0 127.6L631.0 123.4L632.0 123.1L633.0 124.2L634.0 124.5L635.0 127.7L636.0 126.6L637.0 125.3L638.0 121.6L639.0 125.8L640.0 121.3L641.0 118.6L642.0 117.9L643.0 119.3L644.0 117.5L645.0 122.9L646.0 122.7L647.0 124.1L648.0 126.4L649.0 124.4L650.0 128.4L651.0 124.3L652.0 119.2L653.0 121.9L653.5 110.0ZM655.5 110.0L656.0 116.7L656.5 110.0ZM678.5 110.0L679.0 116.6L679.5 110.0ZM680.5 110.0L681.0 117.0L682.0 118.0L682.5 110.0ZM684.5 110.0L685.0 117.5L686.0 117.3L686.5 110.0ZM700.5 110.0L701.0 117.1L701.5 110.0ZM731.5 110.0L732.0 121.2L733.0 125.0L734.0 124.8L735.0 119.5L736.0 116.6L737.0 122.1L738.0 120.8L739.0 120.6L739.5 110.0ZM741.5 110.0L742.0 116.4L742.5 110.0ZM744.5 110.0L745.0 117.4L746.0 117.0L747.0 117.6L747.5 110.0ZM748.5 110.0L749.0 116.9L749.5 110.0ZM750.5 110.0L751.0 117.0L751.5 110.0ZM754.5 110.0L755.0 117.4L755.5 110.0ZM763.5 110.0L764.0 117.7L765.0 119.3L766.0 123.3L767.0 119.6L768.0 118.2L768.5 110.0Z" fill="#FF5B00"/>
<path d="M516.5 110.0L517.0 131.2L518.0 129.7L519.0 133.3L520.0 131.0L521.0 130.0L522.0 131.0L523.0 131.0L524.0 132.1L525.0 130.2L526.0 128.9L527.0 129.4L528.0 128.9L529.0 130.2L530.0 128.4L531.0 132.7L532.0 130.7L533.0 124.8L534.0 122.1L535.0 120.7L536.0 118.6L536.5 110.0ZM537.5 110.0L538.0 118.2L539.0 119.3L539.5 110.0ZM578.5 110.0L579.0 118.4L580.0 123.1L581.0 120.4L582.0 124.2L583.0 126.9L584.0 127.9L585.0 123.4L586.0 121.3L587.0 121.6L588.0 122.0L589.0 123.8L590.0 125.3L591.0 126.5L592.0 124.4L593.0 118.6L594.0 116.4L595.0 120.0L596.0 116.8L597.0 121.5L598.0 126.7L599.0 128.0L600.0 129.3L601.0 129.0L602.0 123.5L603.0 125.6L604.0 120.9L605.0 121.4L606.0 121.7L607.0 116.4L607.5 110.0ZM608.5 110.0L609.0 117.1L609.5 110.0ZM647.5 110.0L648.0 117.8L649.0 116.4L650.0 120.5L650.5 110.0Z" fill="#FF1200"/>
<path d="M516.5 110.0L517.0 121.4L518.0 120.5L519.0 124.1L520.0 122.5L521.0 121.6L522.0 122.4L523.0 122.4L524.0 123.4L525.0 121.6L526.0 120.4L527.0 120.7L528.0 120.3L529.0 121.4L530.0 119.7L531.0 123.7L532.0 121.3L532.5 110.0Z" fill="#C80000"/>
<path d="M518.5 110.0L519.0 116.5L519.5 110.0ZM523.5 110.0L524.0 116.4L524.5 110.0ZM530.5 110.0L531.0 116.7L531.5 110.0Z" fill="#7F0000"/>
<rect x="514.9" y="110.0" width="1.6" height="120.0" fill="#30C8FF" opacity="0.85"/>
<rect x="514.9" y="230.0" width="1.6" height="40.0" fill="#2090FF" opacity="0.70"/>
<rect x="185.0" y="116.0" width="5.0" height="90.0" fill="#0000C8" opacity="0.55"/>
<rect x="185.5" y="116.0" width="3.0" height="330.0" fill="#0000C8" opacity="0.25"/>
<rect x="257.5" y="116.0" width="1.2" height="34.0" fill="#0012FF" opacity="0.80"/>
<rect x="257.5" y="116.0" width="1.2" height="440.0" fill="#0000C8" opacity="0.45"/>
<rect x="278.0" y="116.0" width="2.2" height="52.0" fill="#0012FF" opacity="0.90"/>
<rect x="278.4" y="116.0" width="1.4" height="388.0" fill="#0000C8" opacity="0.50"/>
<rect x="264.0" y="116.0" width="10.0" height="30.0" fill="#0000C8" opacity="0.30"/>
<rect x="307.5" y="116.0" width="1.2" height="12.0" fill="#0000C8" opacity="0.80"/>
<rect x="332.8" y="116.0" width="1.4" height="54.0" fill="#005BFF" opacity="0.90"/>
<rect x="332.8" y="116.0" width="1.4" height="432.0" fill="#0000C8" opacity="0.55"/>
<rect x="335.0" y="116.0" width="8.0" height="30.0" fill="#0012FF" opacity="0.70"/>
<rect x="335.0" y="116.0" width="5.0" height="60.0" fill="#0000C8" opacity="0.70"/>
<rect x="381.5" y="116.0" width="1.2" height="12.0" fill="#0000C8" opacity="0.80"/>
</g><g filter="url(#bl)" opacity="0.55">
<path d="M403.5 110.0L404.0 117.3L405.0 129.0L406.0 125.7L407.0 125.1L408.0 134.7L409.0 139.1L410.0 122.1L410.5 110.0ZM412.5 110.0L413.0 124.7L414.0 128.9L415.0 131.5L416.0 149.9L417.0 138.9L418.0 154.3L419.0 147.8L420.0 141.1L421.0 140.0L422.0 145.6L423.0 162.7L424.0 148.7L425.0 155.0L426.0 160.4L427.0 152.2L428.0 155.1L429.0 141.5L430.0 137.2L431.0 142.7L432.0 161.5L433.0 158.6L434.0 152.9L435.0 162.7L436.0 161.9L437.0 156.2L438.0 175.1L439.0 222.8L440.0 246.8L441.0 297.9L442.0 342.6L443.0 399.6L444.0 440.4L445.0 464.9L446.0 534.3L447.0 522.4L448.0 540.7L449.0 559.6L450.0 538.5L451.0 545.9L452.0 531.5L453.0 557.3L454.0 504.0L455.0 431.6L456.0 445.3L457.0 425.1L458.0 434.4L459.0 505.0L460.0 573.1L461.0 575.7L462.0 598.7L463.0 612.8L464.0 598.7L465.0 606.2L466.0 582.8L467.0 602.7L468.0 608.4L469.0 627.2L470.0 628.9L471.0 597.6L472.0 589.0L473.0 590.0L474.0 553.5L475.0 551.9L476.0 541.9L477.0 536.2L478.0 486.6L479.0 469.8L480.0 404.9L481.0 380.3L482.0 366.4L483.0 367.2L484.0 317.7L485.0 309.0L486.0 303.4L487.0 304.5L488.0 291.4L489.0 282.9L490.0 248.8L491.0 237.7L492.0 236.1L493.0 256.8L494.0 265.4L495.0 230.6L496.0 220.4L497.0 220.4L498.0 218.5L499.0 231.2L500.0 240.6L501.0 232.5L502.0 221.9L503.0 241.0L504.0 261.5L505.0 283.0L506.0 315.8L507.0 359.2L508.0 398.2L509.0 430.8L510.0 442.5L511.0 419.4L512.0 450.6L513.0 457.0L514.0 458.8L515.0 455.9L516.0 436.8L517.0 433.3L518.0 422.1L519.0 442.6L520.0 426.1L521.0 417.8L522.0 422.4L523.0 420.8L524.0 426.3L525.0 411.5L526.0 401.5L527.0 401.4L528.0 396.2L529.0 399.3L530.0 387.6L531.0 400.9L532.0 394.3L533.0 372.9L534.0 364.1L535.0 359.7L536.0 353.2L537.0 337.4L538.0 357.6L539.0 368.0L540.0 342.3L541.0 332.3L542.0 311.3L543.0 302.9L544.0 309.3L545.0 306.1L546.0 326.4L547.0 302.0L548.0 284.8L549.0 317.4L550.0 306.3L551.0 282.8L552.0 288.7L553.0 271.9L554.0 279.3L555.0 292.0L556.0 287.3L557.0 283.4L558.0 272.0L559.0 272.6L560.0 269.3L561.0 283.4L562.0 281.1L563.0 285.3L564.0 274.2L565.0 268.7L566.0 286.0L567.0 297.7L568.0 296.8L569.0 298.1L570.0 302.0L571.0 303.6L572.0 290.0L573.0 296.8L574.0 296.0L575.0 283.5L576.0 280.3L577.0 296.8L578.0 306.0L579.0 331.7L580.0 356.0L581.0 342.2L582.0 361.4L583.0 372.9L584.0 375.4L585.0 350.5L586.0 339.5L587.0 340.5L588.0 342.3L589.0 349.9L590.0 364.4L591.0 382.7L592.0 387.7L593.0 370.7L594.0 372.8L595.0 385.6L596.0 361.0L597.0 379.5L598.0 398.5L599.0 397.5L600.0 396.7L601.0 391.4L602.0 374.5L603.0 387.9L604.0 373.0L605.0 382.5L606.0 390.9L607.0 367.6L608.0 359.7L609.0 379.0L610.0 372.2L611.0 341.4L612.0 328.4L613.0 330.6L614.0 364.9L615.0 371.9L616.0 344.1L617.0 364.9L618.0 379.9L619.0 368.0L620.0 350.7L621.0 356.8L622.0 342.9L623.0 334.1L624.0 375.1L625.0 373.2L626.0 363.8L627.0 379.5L628.0 363.1L629.0 375.7L630.0 379.3L631.0 353.0L632.0 347.6L633.0 349.3L634.0 347.0L635.0 360.4L636.0 351.2L637.0 354.1L638.0 344.6L639.0 375.3L640.0 362.3L641.0 358.3L642.0 363.7L643.0 377.6L644.0 361.8L645.0 378.9L646.0 369.3L647.0 367.2L648.0 369.0L649.0 349.4L650.0 360.5L651.0 342.0L652.0 318.9L653.0 332.7L654.0 305.3L655.0 301.1L656.0 304.7L657.0 293.8L658.0 276.6L659.0 280.2L660.0 282.8L661.0 290.8L662.0 269.9L663.0 278.4L664.0 272.2L665.0 268.2L666.0 283.1L667.0 277.3L668.0 274.6L669.0 283.2L670.0 291.7L671.0 282.1L672.0 287.6L673.0 286.5L674.0 286.5L675.0 293.9L676.0 287.7L677.0 290.2L678.0 291.0L679.0 317.5L680.0 320.4L681.0 331.9L682.0 344.0L683.0 322.6L684.0 333.8L685.0 340.0L686.0 326.4L687.0 281.8L688.0 262.4L689.0 267.9L690.0 256.0L691.0 253.8L692.0 247.0L693.0 258.9L694.0 264.4L695.0 266.2L696.0 245.1L697.0 255.7L698.0 260.2L699.0 247.0L700.0 264.9L701.0 272.6L702.0 251.2L703.0 265.8L704.0 255.6L705.0 252.4L706.0 267.9L707.0 266.9L708.0 242.6L709.0 244.8L710.0 250.1L711.0 244.9L712.0 238.0L713.0 241.1L714.0 257.8L715.0 236.3L716.0 249.2L717.0 248.9L718.0 228.7L719.0 233.9L720.0 247.2L721.0 249.4L722.0 232.9L723.0 269.0L724.0 275.5L725.0 279.1L726.0 244.2L727.0 239.3L728.0 234.3L729.0 260.3L730.0 257.4L731.0 251.8L732.0 258.2L733.0 274.1L734.0 278.9L735.0 267.6L736.0 263.1L737.0 287.6L738.0 289.3L739.0 295.5L740.0 281.5L741.0 274.8L742.0 298.7L743.0 295.0L744.0 276.3L745.0 303.1L746.0 296.2L747.0 293.3L748.0 268.7L749.0 283.3L750.0 268.0L751.0 281.1L752.0 275.9L753.0 268.2L754.0 269.8L755.0 276.9L756.0 262.7L757.0 254.2L758.0 260.3L759.0 255.3L760.0 249.7L761.0 248.6L762.0 245.4L763.0 246.3L764.0 247.9L765.0 247.2L766.0 254.4L767.0 246.8L768.0 247.0L769.0 240.3L770.0 240.2L771.0 232.8L772.0 234.0L773.0 226.6L774.0 237.5L775.0 234.7L776.0 221.4L777.0 222.4L778.0 233.6L779.0 209.3L780.0 221.5L781.0 209.1L782.0 197.6L783.0 202.7L784.0 179.4L785.0 165.3L786.0 157.7L787.0 148.9L788.0 124.2L789.0 121.9L790.0 116.3L790.5 110.0Z" fill="#0000C8"/>
<path d="M422.5 110.0L423.0 117.1L423.5 110.0ZM437.5 110.0L438.0 118.2L439.0 127.2L439.5 110.0ZM440.5 110.0L441.0 122.9L442.0 127.0L443.0 143.4L444.0 143.6L445.0 127.5L446.0 156.3L447.0 131.4L448.0 136.7L449.0 155.4L450.0 134.1L451.0 141.3L452.0 126.7L453.0 152.3L454.0 169.0L455.0 166.6L456.0 181.0L457.0 161.4L458.0 171.4L459.0 172.5L460.0 171.1L461.0 234.7L462.0 318.7L463.0 366.1L464.0 385.3L465.0 426.2L466.0 417.4L467.0 451.9L468.0 472.2L469.0 505.6L470.0 521.9L471.0 480.0L472.0 460.8L473.0 451.2L474.0 404.1L475.0 391.9L476.0 351.9L477.0 316.2L478.0 288.3L479.0 293.1L480.0 249.9L481.0 239.6L482.0 239.9L483.0 254.9L484.0 219.7L485.0 220.7L486.0 224.8L487.0 232.7L488.0 227.3L489.0 212.6L490.0 176.4L491.0 158.5L492.0 157.5L493.0 176.3L494.0 184.4L495.0 153.9L496.0 145.3L497.0 145.8L498.0 144.6L499.0 157.2L500.0 167.2L501.0 161.3L502.0 152.8L503.0 171.7L504.0 181.5L505.0 193.0L506.0 215.8L507.0 209.6L508.0 199.0L509.0 204.8L510.0 212.5L511.0 189.7L512.0 221.3L513.0 228.0L514.0 230.5L515.0 228.4L516.0 274.6L517.0 368.9L518.0 359.2L519.0 381.1L520.0 366.1L521.0 358.0L522.0 363.0L523.0 361.7L524.0 367.6L525.0 354.3L526.0 345.2L527.0 347.8L528.0 344.4L529.0 353.1L530.0 340.0L531.0 370.3L532.0 362.1L533.0 329.5L534.0 319.1L535.0 315.3L536.0 308.1L537.0 284.1L538.0 296.1L539.0 295.9L540.0 261.9L541.0 254.8L542.0 238.3L543.0 233.4L544.0 241.1L545.0 240.6L546.0 258.4L547.0 241.2L548.0 230.2L549.0 256.1L550.0 249.9L551.0 234.2L552.0 240.6L553.0 229.6L554.0 237.5L555.0 250.1L556.0 248.7L557.0 245.2L558.0 235.5L559.0 235.8L560.0 232.8L561.0 244.1L562.0 242.0L563.0 245.2L564.0 236.0L565.0 231.0L566.0 244.2L567.0 252.8L568.0 251.5L569.0 251.9L570.0 254.3L571.0 254.9L572.0 244.0L573.0 248.2L574.0 246.6L575.0 236.0L576.0 232.6L577.0 244.1L578.0 250.1L579.0 268.8L580.0 287.5L581.0 275.2L582.0 290.5L583.0 304.4L584.0 310.4L585.0 293.3L586.0 286.7L587.0 290.4L588.0 294.4L589.0 304.6L590.0 315.0L591.0 325.7L592.0 322.9L593.0 301.4L594.0 297.2L595.0 314.3L596.0 296.1L597.0 318.7L598.0 343.5L599.0 349.0L600.0 353.9L601.0 351.7L602.0 326.5L603.0 337.4L604.0 316.4L605.0 319.3L606.0 320.8L607.0 297.9L608.0 288.7L609.0 304.1L610.0 295.9L611.0 265.6L612.0 251.4L613.0 253.1L614.0 284.9L615.0 291.4L616.0 265.0L617.0 284.6L618.0 298.9L619.0 287.3L620.0 270.5L621.0 276.2L622.0 262.4L623.0 253.5L624.0 293.9L625.0 292.2L626.0 282.9L627.0 298.4L628.0 282.5L629.0 294.8L630.0 298.3L631.0 277.7L632.0 277.3L633.0 283.5L634.0 286.1L635.0 302.6L636.0 298.4L637.0 297.1L638.0 284.3L639.0 308.1L640.0 291.8L641.0 283.9L642.0 284.9L643.0 294.6L644.0 283.8L645.0 305.5L646.0 300.9L647.0 303.9L648.0 310.7L649.0 296.3L650.0 311.9L651.0 293.0L652.0 270.7L653.0 281.6L654.0 256.4L655.0 252.6L656.0 254.5L657.0 245.4L658.0 231.9L659.0 234.4L660.0 236.1L661.0 241.6L662.0 226.6L663.0 232.5L664.0 227.9L665.0 224.9L666.0 235.6L667.0 231.3L668.0 229.2L669.0 235.4L670.0 241.6L671.0 233.9L672.0 237.4L673.0 236.1L674.0 235.5L675.0 240.3L676.0 235.4L677.0 236.6L678.0 236.7L679.0 251.6L680.0 250.8L681.0 256.5L682.0 263.0L683.0 240.5L684.0 245.7L685.0 259.6L686.0 254.9L687.0 229.7L688.0 222.5L689.0 227.5L690.0 219.2L691.0 218.3L692.0 213.9L693.0 222.6L694.0 226.2L695.0 227.1L696.0 210.1L697.0 217.8L698.0 220.7L699.0 209.8L700.0 223.1L701.0 228.5L702.0 211.4L703.0 221.7L704.0 212.7L705.0 209.1L706.0 220.3L707.0 218.5L708.0 198.3L709.0 198.9L710.0 202.1L711.0 196.9L712.0 190.0L713.0 191.4L714.0 204.8L715.0 184.8L716.0 195.3L717.0 194.2L718.0 174.9L719.0 178.8L720.0 190.3L721.0 191.6L722.0 176.2L723.0 209.9L724.0 216.0L725.0 219.3L726.0 188.6L727.0 186.6L728.0 190.7L729.0 220.3L730.0 226.8L731.0 223.3L732.0 229.5L733.0 241.1L734.0 243.5L735.0 232.9L736.0 228.0L737.0 246.0L738.0 245.4L739.0 248.3L740.0 235.8L741.0 229.1L742.0 245.2L743.0 240.5L744.0 225.0L745.0 247.3L746.0 245.5L747.0 246.8L748.0 231.0L749.0 244.3L750.0 233.2L751.0 246.1L752.0 243.4L753.0 236.7L754.0 238.6L755.0 245.6L756.0 232.8L757.0 225.4L758.0 231.4L759.0 227.2L760.0 222.2L761.0 221.4L762.0 218.5L763.0 219.7L764.0 221.4L765.0 221.0L766.0 228.3L767.0 220.2L768.0 219.6L769.0 212.6L770.0 211.8L771.0 204.2L772.0 204.6L773.0 196.3L774.0 205.9L775.0 202.5L776.0 187.6L777.0 188.2L778.0 194.2L779.0 165.0L780.0 169.2L781.0 152.8L782.0 142.3L783.0 143.2L784.0 125.2L785.0 119.6L786.0 118.7L787.0 119.3L787.5 110.0Z" fill="#0012FF"/>
<path d="M445.5 110.0L446.0 116.9L446.5 110.0ZM453.5 110.0L454.0 118.7L455.0 117.3L456.0 123.4L456.5 110.0ZM457.5 110.0L458.0 118.7L459.0 119.0L460.0 118.2L461.0 118.9L462.0 132.8L463.0 143.8L464.0 126.7L465.0 131.2L466.0 118.6L467.0 149.3L468.0 165.8L469.0 195.4L470.0 207.9L471.0 185.4L472.0 185.6L473.0 195.4L474.0 167.7L475.0 174.9L476.0 166.4L477.0 162.2L478.0 163.9L479.0 198.5L480.0 188.1L481.0 188.9L482.0 197.3L483.0 213.0L484.0 201.2L485.0 198.2L486.0 196.6L487.0 197.9L488.0 192.5L489.0 176.7L490.0 151.4L491.0 135.6L492.0 134.3L493.0 140.7L494.0 143.2L495.0 130.0L496.0 125.4L497.0 124.6L498.0 123.0L499.0 128.5L500.0 133.2L501.0 129.4L502.0 123.3L503.0 133.6L504.0 137.9L505.0 143.3L506.0 157.6L507.0 151.4L508.0 141.5L509.0 144.0L510.0 148.0L511.0 127.5L512.0 152.2L513.0 156.4L514.0 158.0L515.0 155.6L516.0 200.0L517.0 290.3L518.0 283.8L519.0 308.2L520.0 296.6L521.0 290.8L522.0 297.8L523.0 298.7L524.0 306.4L525.0 289.2L526.0 275.9L527.0 274.0L528.0 266.2L529.0 270.5L530.0 253.2L531.0 279.3L532.0 274.7L533.0 247.6L534.0 241.6L535.0 241.5L536.0 238.2L537.0 227.6L538.0 241.0L539.0 242.3L540.0 226.4L541.0 223.2L542.0 215.9L543.0 213.4L544.0 216.4L545.0 215.8L546.0 223.6L547.0 215.5L548.0 209.9L549.0 222.4L550.0 219.4L551.0 211.2L552.0 214.6L553.0 208.4L554.0 212.8L555.0 220.5L556.0 220.1L557.0 217.9L558.0 212.0L559.0 212.3L560.0 210.7L561.0 217.6L562.0 216.5L563.0 218.5L564.0 213.2L565.0 210.6L566.0 218.5L567.0 223.5L568.0 223.0L569.0 223.4L570.0 224.9L571.0 225.4L572.0 220.0L573.0 222.3L574.0 221.7L575.0 216.6L576.0 215.1L577.0 221.1L578.0 224.3L579.0 233.7L580.0 243.0L581.0 237.3L582.0 244.9L583.0 253.6L584.0 258.5L585.0 248.8L586.0 243.8L587.0 244.8L588.0 245.8L589.0 251.6L590.0 262.3L591.0 271.1L592.0 269.1L593.0 255.4L594.0 252.7L595.0 262.2L596.0 249.8L597.0 262.9L598.0 278.9L599.0 281.3L600.0 283.0L601.0 278.1L602.0 261.9L603.0 275.0L604.0 263.0L605.0 268.0L606.0 270.7L607.0 256.7L608.0 251.4L609.0 259.8L610.0 255.0L611.0 238.8L612.0 231.6L613.0 231.9L614.0 247.3L615.0 250.0L616.0 236.2L617.0 245.3L618.0 251.8L619.0 245.5L620.0 236.6L621.0 238.8L622.0 231.5L623.0 226.6L624.0 245.7L625.0 245.5L626.0 241.6L627.0 249.8L628.0 242.5L629.0 249.2L630.0 251.6L631.0 241.4L632.0 240.9L633.0 244.0L634.0 244.8L635.0 255.2L636.0 251.1L637.0 250.3L638.0 241.6L639.0 256.5L640.0 245.6L641.0 240.2L642.0 239.7L643.0 243.3L644.0 239.2L645.0 252.2L646.0 250.7L647.0 253.2L648.0 257.9L649.0 247.3L650.0 257.8L651.0 247.2L652.0 234.7L653.0 244.9L654.0 231.0L655.0 228.5L656.0 229.3L657.0 223.6L658.0 215.7L659.0 216.5L660.0 216.8L661.0 219.2L662.0 210.6L663.0 213.2L664.0 210.2L665.0 208.1L666.0 213.2L667.0 210.3L668.0 208.7L669.0 211.4L670.0 214.1L671.0 210.3L672.0 212.3L673.0 211.9L674.0 211.8L675.0 214.4L676.0 212.2L677.0 213.1L678.0 213.4L679.0 220.8L680.0 220.6L681.0 223.3L682.0 226.2L683.0 218.0L684.0 220.6L685.0 224.8L686.0 222.4L687.0 209.9L688.0 204.6L689.0 207.0L690.0 201.8L691.0 200.9L692.0 197.8L693.0 202.5L694.0 204.0L695.0 203.7L696.0 193.1L697.0 196.9L698.0 197.8L699.0 190.9L700.0 197.7L701.0 199.9L702.0 189.7L703.0 193.9L704.0 187.7L705.0 184.5L706.0 189.1L707.0 186.8L708.0 174.7L709.0 173.7L710.0 174.0L711.0 168.1L712.0 161.1L713.0 158.7L714.0 163.2L715.0 148.6L716.0 151.6L717.0 149.6L718.0 136.5L719.0 137.4L720.0 143.1L721.0 142.5L722.0 133.0L723.0 154.4L724.0 158.4L725.0 160.7L726.0 152.0L727.0 162.1L728.0 178.0L729.0 204.2L730.0 210.7L731.0 208.0L732.0 211.6L733.0 219.0L734.0 220.2L735.0 213.2L736.0 210.0L737.0 220.5L738.0 219.8L739.0 221.1L740.0 214.1L741.0 210.5L742.0 218.6L743.0 216.3L744.0 209.0L745.0 219.4L746.0 218.4L747.0 219.2L748.0 210.0L749.0 217.6L750.0 210.0L751.0 218.0L752.0 215.7L753.0 211.0L754.0 212.2L755.0 217.1L756.0 208.0L757.0 202.5L758.0 206.7L759.0 203.6L760.0 199.8L761.0 198.8L762.0 196.2L763.0 196.7L764.0 197.6L765.0 197.0L766.0 202.4L767.0 195.7L768.0 194.9L769.0 189.1L770.0 188.1L771.0 182.1L772.0 182.0L773.0 170.9L774.0 172.8L775.0 165.2L776.0 149.5L777.0 144.8L778.0 149.1L779.0 131.6L780.0 133.4L781.0 124.4L782.0 119.7L783.0 119.7L783.5 110.0Z" fill="#005BFF"/>
<path d="M468.5 110.0L469.0 125.6L470.0 128.9L471.0 117.6L472.0 121.8L473.0 132.0L474.0 118.6L475.0 127.1L476.0 130.2L477.0 136.1L478.0 141.4L479.0 165.1L480.0 161.8L481.0 162.8L482.0 169.6L483.0 184.4L484.0 171.8L485.0 170.2L486.0 169.9L487.0 172.4L488.0 167.5L489.0 155.4L490.0 135.5L491.0 124.4L492.0 122.4L493.0 125.2L494.0 125.4L494.5 110.0ZM505.5 110.0L506.0 117.9L506.5 110.0ZM512.5 110.0L513.0 116.5L514.0 117.2L514.5 110.0ZM515.5 110.0L516.0 168.4L517.0 255.6L518.0 249.7L519.0 264.6L520.0 254.6L521.0 249.1L522.0 253.0L523.0 252.2L524.0 257.0L525.0 246.5L526.0 239.8L527.0 241.1L528.0 238.3L529.0 242.1L530.0 234.0L531.0 246.4L532.0 243.0L533.0 229.8L534.0 225.9L535.0 224.6L536.0 221.8L537.0 215.5L538.0 220.4L539.0 220.6L540.0 211.5L541.0 209.2L542.0 204.3L543.0 202.4L544.0 203.9L545.0 203.2L546.0 207.9L547.0 202.3L548.0 198.3L549.0 206.4L550.0 204.2L551.0 198.4L552.0 200.6L553.0 196.0L554.0 198.9L555.0 204.3L556.0 203.9L557.0 202.6L558.0 198.4L559.0 198.9L560.0 197.9L561.0 203.3L562.0 202.6L563.0 204.3L564.0 200.7L565.0 199.1L566.0 205.1L567.0 209.0L568.0 208.8L569.0 209.4L570.0 210.7L571.0 211.3L572.0 208.0L573.0 209.9L574.0 209.8L575.0 206.9L576.0 206.5L577.0 210.7L578.0 213.1L579.0 219.4L580.0 225.4L581.0 222.4L582.0 227.3L583.0 232.7L584.0 235.7L585.0 229.7L586.0 226.4L587.0 227.0L588.0 227.4L589.0 230.8L590.0 236.6L591.0 241.3L592.0 239.0L593.0 229.2L594.0 226.5L595.0 233.5L596.0 226.8L597.0 236.0L598.0 246.5L599.0 249.1L600.0 251.3L601.0 250.2L602.0 239.8L603.0 245.8L604.0 237.5L605.0 239.7L606.0 241.3L607.0 230.9L608.0 226.7L609.0 232.8L610.0 228.9L611.0 216.2L612.0 210.2L613.0 210.8L614.0 222.9L615.0 225.1L616.0 214.8L617.0 221.8L618.0 226.7L619.0 222.2L620.0 215.8L621.0 217.6L622.0 212.6L623.0 209.3L624.0 222.7L625.0 222.4L626.0 219.6L627.0 225.3L628.0 220.1L629.0 224.7L630.0 226.3L631.0 218.8L632.0 218.3L633.0 220.4L634.0 221.0L635.0 227.5L636.0 225.0L637.0 224.4L638.0 218.9L639.0 227.6L640.0 220.9L641.0 217.4L642.0 216.9L643.0 218.8L644.0 217.6L645.0 226.6L646.0 227.0L647.0 229.7L648.0 233.8L649.0 228.7L650.0 236.3L651.0 228.0L652.0 218.2L653.0 223.8L654.0 212.6L655.0 210.7L656.0 211.2L657.0 206.8L658.0 200.4L659.0 201.1L660.0 201.3L661.0 203.3L662.0 196.3L663.0 198.4L664.0 196.0L665.0 194.2L666.0 198.3L667.0 196.0L668.0 194.6L669.0 196.7L670.0 198.8L671.0 195.8L672.0 197.4L673.0 197.0L674.0 197.0L675.0 199.1L676.0 197.3L677.0 198.0L678.0 198.3L679.0 204.0L680.0 204.0L681.0 206.1L682.0 208.4L683.0 202.4L684.0 204.4L685.0 207.3L686.0 205.1L687.0 195.2L688.0 190.8L689.0 192.6L690.0 188.3L691.0 187.5L692.0 184.9L693.0 188.7L694.0 189.8L695.0 189.5L696.0 181.1L697.0 183.9L698.0 184.5L699.0 179.2L700.0 184.0L701.0 185.3L702.0 177.8L703.0 180.1L704.0 175.1L705.0 172.3L706.0 174.4L707.0 172.1L708.0 164.1L709.0 162.7L710.0 162.0L711.0 156.8L712.0 151.3L713.0 148.0L714.0 147.7L715.0 138.9L716.0 137.8L717.0 135.2L718.0 128.0L719.0 126.6L720.0 127.3L721.0 125.3L722.0 121.4L723.0 131.1L724.0 133.2L725.0 134.5L726.0 139.0L727.0 151.6L728.0 165.9L729.0 189.5L730.0 196.9L731.0 194.6L732.0 198.1L733.0 204.7L734.0 205.6L735.0 199.7L736.0 197.2L737.0 205.9L738.0 205.3L739.0 206.3L740.0 200.9L741.0 198.2L742.0 204.5L743.0 202.6L744.0 196.9L745.0 204.6L746.0 203.7L747.0 204.0L748.0 196.7L749.0 202.4L750.0 196.7L751.0 202.4L752.0 200.6L753.0 197.1L754.0 197.8L755.0 201.0L756.0 194.4L757.0 190.4L758.0 193.2L759.0 190.8L760.0 188.0L761.0 186.7L762.0 184.4L763.0 184.1L764.0 184.2L765.0 183.1L766.0 186.4L767.0 180.9L768.0 179.5L769.0 174.6L770.0 173.1L771.0 167.8L772.0 167.0L773.0 158.7L774.0 157.9L775.0 151.1L776.0 141.0L777.0 135.6L778.0 133.7L779.0 123.7L780.0 121.4L780.5 110.0Z" fill="#00A4FF"/>
<path d="M478.5 110.0L479.0 130.0L480.0 128.2L481.0 128.8L482.0 134.3L483.0 146.6L484.0 135.6L485.0 135.5L486.0 136.3L487.0 139.2L488.0 136.0L489.0 129.6L490.0 116.6L490.5 110.0ZM515.5 110.0L516.0 150.2L517.0 221.7L518.0 215.7L519.0 228.0L520.0 218.7L521.0 213.8L522.0 216.8L523.0 216.0L524.0 219.7L525.0 212.5L526.0 208.3L527.0 210.8L528.0 209.8L529.0 214.7L530.0 209.1L531.0 222.2L532.0 220.0L533.0 208.6L534.0 205.9L535.0 205.6L536.0 204.0L537.0 198.8L538.0 204.4L539.0 205.5L540.0 197.5L541.0 195.2L542.0 190.4L543.0 188.5L544.0 190.0L545.0 189.3L546.0 193.8L547.0 188.4L548.0 184.6L549.0 192.1L550.0 190.0L551.0 184.7L552.0 186.5L553.0 182.4L554.0 185.0L555.0 189.6L556.0 189.1L557.0 188.1L558.0 184.5L559.0 185.0L560.0 184.1L561.0 189.0L562.0 188.5L563.0 190.2L564.0 186.7L565.0 185.4L566.0 191.6L567.0 195.9L568.0 196.1L569.0 196.9L570.0 198.7L571.0 199.6L572.0 196.0L573.0 197.5L574.0 196.9L575.0 193.0L576.0 192.0L577.0 196.2L578.0 198.4L579.0 204.7L580.0 210.8L581.0 206.9L582.0 211.7L583.0 215.5L584.0 216.8L585.0 209.4L586.0 205.1L587.0 204.5L588.0 203.8L589.0 205.9L590.0 212.2L591.0 217.7L592.0 217.1L593.0 209.3L594.0 208.3L595.0 214.1L596.0 206.6L597.0 214.6L598.0 224.0L599.0 225.5L600.0 226.6L601.0 224.2L602.0 214.5L603.0 221.4L604.0 213.9L605.0 216.6L606.0 218.4L607.0 209.0L608.0 205.4L609.0 210.9L610.0 207.6L611.0 196.6L612.0 191.6L613.0 192.0L614.0 202.4L615.0 204.3L616.0 195.3L617.0 201.4L618.0 205.7L619.0 201.6L620.0 196.0L621.0 197.5L622.0 193.0L623.0 190.0L624.0 202.0L625.0 202.0L626.0 199.7L627.0 205.0L628.0 200.5L629.0 204.8L630.0 206.5L631.0 200.0L632.0 199.9L633.0 202.1L634.0 202.9L635.0 209.2L636.0 207.2L637.0 206.7L638.0 201.8L639.0 210.1L640.0 203.9L641.0 200.8L642.0 200.4L643.0 202.4L644.0 200.4L645.0 208.3L646.0 207.6L647.0 209.2L648.0 212.2L649.0 205.3L650.0 212.0L651.0 205.1L652.0 196.7L653.0 204.3L654.0 194.6L655.0 193.7L656.0 195.2L657.0 191.8L658.0 186.4L659.0 187.1L660.0 187.4L661.0 189.2L662.0 182.5L663.0 184.5L664.0 182.2L665.0 180.5L666.0 184.2L667.0 182.0L668.0 180.8L669.0 182.5L670.0 184.1L671.0 181.6L672.0 183.1L673.0 182.9L674.0 182.9L675.0 184.9L676.0 183.3L677.0 184.0L678.0 184.3L679.0 190.0L680.0 190.1L681.0 192.4L682.0 194.9L683.0 188.3L684.0 190.5L685.0 193.8L686.0 191.5L687.0 181.2L688.0 176.8L689.0 178.6L690.0 174.5L691.0 173.7L692.0 171.3L693.0 174.9L694.0 176.0L695.0 175.9L696.0 168.2L697.0 170.9L698.0 171.5L699.0 166.8L700.0 171.3L701.0 172.6L702.0 165.8L703.0 168.0L704.0 163.5L705.0 161.0L706.0 163.0L707.0 161.0L708.0 153.7L709.0 152.6L710.0 152.0L711.0 146.9L712.0 141.5L713.0 138.2L714.0 137.6L715.0 129.2L716.0 127.8L717.0 124.9L718.0 118.1L719.0 116.3L719.5 110.0ZM722.5 110.0L723.0 118.0L724.0 119.6L725.0 120.6L726.0 126.7L727.0 137.3L728.0 146.5L729.0 170.7L730.0 180.9L731.0 178.8L732.0 182.3L733.0 188.5L734.0 189.5L735.0 183.9L736.0 181.5L737.0 189.8L738.0 189.2L739.0 190.2L740.0 184.9L741.0 182.2L742.0 188.5L743.0 186.6L744.0 181.1L745.0 188.7L746.0 188.0L747.0 188.5L748.0 181.8L749.0 187.5L750.0 182.3L751.0 188.0L752.0 186.5L753.0 183.3L754.0 184.0L755.0 187.2L756.0 181.0L757.0 177.2L758.0 180.0L759.0 177.8L760.0 175.2L761.0 174.0L762.0 171.8L763.0 171.5L764.0 171.5L765.0 170.4L766.0 173.0L767.0 167.8L768.0 166.1L769.0 161.4L770.0 159.6L771.0 154.6L772.0 153.4L773.0 146.4L774.0 146.2L775.0 140.6L776.0 131.9L777.0 127.6L778.0 125.2L778.5 110.0Z" fill="#00EDFF"/>
<path d="M481.5 110.0L482.0 118.8L483.0 126.7L484.0 122.8L485.0 121.7L486.0 121.1L487.0 121.7L488.0 119.2L488.5 110.0ZM515.5 110.0L516.0 131.9L517.0 190.9L518.0 187.1L519.0 194.8L520.0 189.1L521.0 185.8L522.0 187.4L523.0 186.6L524.0 188.6L525.0 184.7L526.0 182.5L527.0 184.6L528.0 184.5L529.0 188.5L530.0 185.1L531.0 195.7L532.0 194.7L533.0 186.4L534.0 184.9L535.0 185.3L536.0 184.7L537.0 181.1L538.0 187.1L539.0 189.3L540.0 183.4L541.0 181.4L542.0 177.2L543.0 175.7L544.0 177.2L545.0 176.8L546.0 180.9L547.0 176.3L548.0 173.1L549.0 179.9L550.0 178.2L551.0 173.7L552.0 175.5L553.0 172.1L554.0 174.5L555.0 178.7L556.0 178.5L557.0 177.4L558.0 174.1L559.0 174.3L560.0 173.3L561.0 177.5L562.0 176.9L563.0 178.1L564.0 174.9L565.0 173.3L566.0 178.5L567.0 182.0L568.0 181.8L569.0 182.3L570.0 183.5L571.0 184.1L572.0 180.0L573.0 181.5L574.0 180.9L575.0 177.3L576.0 176.4L577.0 180.5L578.0 182.7L579.0 188.6L580.0 194.1L581.0 190.7L582.0 195.0L583.0 197.6L584.0 198.0L585.0 191.7L586.0 188.1L587.0 187.5L588.0 187.0L589.0 188.4L590.0 191.7L591.0 194.9L592.0 193.8L593.0 187.1L594.0 185.5L595.0 189.8L596.0 183.4L597.0 189.4L598.0 196.3L599.0 197.1L600.0 197.7L601.0 195.7L602.0 189.1L603.0 194.9L604.0 190.0L605.0 192.8L606.0 195.0L607.0 188.0L608.0 185.4L609.0 189.9L610.0 187.5L611.0 179.1L612.0 175.3L613.0 175.8L614.0 184.1L615.0 185.6L616.0 178.7L617.0 183.5L618.0 186.9L619.0 183.9L620.0 179.7L621.0 180.9L622.0 177.6L623.0 175.4L624.0 184.5L625.0 184.3L626.0 182.4L627.0 186.2L628.0 182.6L629.0 185.8L630.0 186.9L631.0 181.0L632.0 180.1L633.0 181.0L634.0 180.8L635.0 185.2L636.0 182.6L637.0 182.9L638.0 179.4L639.0 187.2L640.0 182.6L641.0 180.6L642.0 181.1L643.0 183.5L644.0 180.7L645.0 186.3L646.0 184.7L647.0 185.1L648.0 186.6L649.0 180.5L650.0 184.9L651.0 180.6L652.0 175.0L653.0 182.2L654.0 175.5L655.0 175.2L656.0 177.2L657.0 174.8L658.0 170.7L659.0 171.7L660.0 172.4L661.0 174.6L662.0 168.8L663.0 171.1L664.0 169.4L665.0 168.4L666.0 172.1L667.0 170.6L668.0 169.9L669.0 171.8L670.0 173.6L671.0 171.0L672.0 171.9L673.0 171.2L674.0 170.8L675.0 172.1L676.0 170.3L677.0 170.4L678.0 170.2L679.0 174.5L680.0 173.7L681.0 175.0L682.0 176.4L683.0 169.4L684.0 170.5L685.0 174.6L686.0 173.4L687.0 165.2L688.0 162.3L689.0 164.5L690.0 161.6L691.0 161.5L692.0 160.0L693.0 163.1L694.0 164.1L695.0 164.0L696.0 157.6L697.0 159.9L698.0 160.5L699.0 156.6L700.0 160.3L701.0 161.4L702.0 155.8L703.0 157.3L704.0 153.4L705.0 151.0L706.0 152.5L707.0 150.5L708.0 144.0L709.0 142.7L710.0 142.0L711.0 136.7L712.0 131.0L713.0 127.3L714.0 126.2L715.0 117.6L715.5 110.0ZM727.5 110.0L728.0 116.9L729.0 148.9L730.0 167.3L731.0 166.9L732.0 171.1L733.0 175.8L734.0 176.4L735.0 171.9L736.0 169.8L737.0 176.2L738.0 175.6L739.0 176.2L740.0 171.8L741.0 169.6L742.0 174.4L743.0 173.2L744.0 169.1L745.0 175.6L746.0 175.1L747.0 175.6L748.0 170.2L749.0 174.6L750.0 170.0L751.0 174.7L752.0 173.2L753.0 170.3L754.0 170.9L755.0 173.6L756.0 168.1L757.0 164.7L758.0 167.1L759.0 165.1L760.0 162.8L761.0 161.9L762.0 160.1L763.0 160.1L764.0 160.2L765.0 159.4L766.0 161.7L767.0 156.8L768.0 154.8L769.0 150.4L770.0 148.3L771.0 143.9L772.0 142.2L773.0 136.0L774.0 135.1L775.0 130.2L776.0 122.4L777.0 118.6L777.5 110.0Z" fill="#36FFC8"/>
<path d="M482.5 110.0L483.0 116.3L483.5 110.0ZM515.5 110.0L516.0 122.9L517.0 183.4L518.0 182.0L519.0 185.3L520.0 183.2L521.0 181.9L522.0 182.6L523.0 182.3L524.0 183.1L525.0 180.9L526.0 179.2L527.0 179.4L528.0 178.6L529.0 180.0L530.0 177.6L531.0 183.0L532.0 181.9L533.0 176.4L534.0 174.9L535.0 174.6L536.0 173.7L537.0 170.7L538.0 174.5L539.0 176.0L540.0 171.1L541.0 169.5L542.0 166.1L543.0 164.8L544.0 166.1L545.0 165.7L546.0 169.3L547.0 165.4L548.0 162.6L549.0 168.5L550.0 167.0L551.0 163.0L552.0 164.5L553.0 161.4L554.0 163.5L555.0 167.5L556.0 167.2L557.0 166.2L558.0 163.1L559.0 163.3L560.0 162.4L561.0 166.3L562.0 165.8L563.0 166.9L564.0 164.0L565.0 162.5L566.0 167.0L567.0 170.0L568.0 169.7L569.0 170.0L570.0 170.9L571.0 171.3L572.0 168.0L573.0 169.4L574.0 169.1L575.0 166.5L576.0 166.0L577.0 169.5L578.0 171.4L579.0 176.2L580.0 180.8L581.0 178.3L582.0 181.9L583.0 184.0L584.0 184.3L585.0 179.7L586.0 177.3L587.0 177.1L588.0 176.9L589.0 178.1L590.0 179.9L591.0 181.4L592.0 180.0L593.0 174.9L594.0 173.2L595.0 176.4L596.0 172.9L597.0 177.1L598.0 181.6L599.0 182.6L600.0 183.4L601.0 182.9L602.0 178.6L603.0 181.4L604.0 177.9L605.0 179.2L606.0 180.3L607.0 175.4L608.0 173.3L609.0 176.3L610.0 174.4L611.0 168.1L612.0 165.1L613.0 165.4L614.0 171.7L615.0 172.9L616.0 167.7L617.0 171.4L618.0 174.1L619.0 171.8L620.0 168.5L621.0 169.6L622.0 166.9L623.0 165.2L624.0 172.7L625.0 172.5L626.0 170.9L627.0 174.0L628.0 171.2L629.0 173.6L630.0 174.5L631.0 170.0L632.0 169.5L633.0 170.2L634.0 170.2L635.0 173.1L636.0 171.6L637.0 171.5L638.0 169.0L639.0 173.8L640.0 170.6L641.0 169.2L642.0 169.3L643.0 171.0L644.0 169.2L645.0 173.2L646.0 172.4L647.0 173.0L648.0 174.3L649.0 171.3L650.0 174.3L651.0 170.9L652.0 166.5L653.0 170.1L654.0 164.9L655.0 164.2L656.0 165.2L657.0 163.0L658.0 159.4L659.0 160.2L660.0 160.8L661.0 162.6L662.0 157.8L663.0 159.7L664.0 158.3L665.0 157.4L666.0 160.7L667.0 159.4L668.0 158.8L669.0 160.6L670.0 162.4L671.0 159.9L672.0 160.7L673.0 160.1L674.0 159.7L675.0 160.8L676.0 159.2L677.0 159.4L678.0 159.2L679.0 162.3L680.0 161.4L681.0 162.1L682.0 162.8L683.0 157.7L684.0 158.3L685.0 161.3L686.0 160.8L687.0 155.2L688.0 153.2L689.0 154.7L690.0 152.3L691.0 152.1L692.0 150.7L693.0 153.3L694.0 154.2L695.0 154.2L696.0 149.0L697.0 150.9L698.0 151.5L699.0 148.3L700.0 151.4L701.0 152.4L702.0 147.8L703.0 148.8L704.0 145.2L705.0 142.9L706.0 143.8L707.0 141.8L708.0 136.3L709.0 134.9L710.0 134.0L711.0 128.6L712.0 122.9L713.0 118.8L714.0 117.0L714.5 110.0ZM728.5 110.0L729.0 131.1L730.0 155.5L731.0 156.3L732.0 161.4L733.0 165.6L734.0 166.2L735.0 162.1L736.0 160.3L737.0 165.9L738.0 165.4L739.0 165.9L740.0 162.2L741.0 160.3L742.0 164.3L743.0 162.9L744.0 158.9L745.0 164.5L746.0 164.3L747.0 164.9L748.0 160.5L749.0 164.0L750.0 159.8L751.0 163.4L752.0 161.9L753.0 159.4L754.0 160.0L755.0 162.3L756.0 157.7L757.0 155.0L758.0 157.0L759.0 155.4L760.0 153.5L761.0 152.7L762.0 151.3L763.0 151.2L764.0 151.3L765.0 150.6L766.0 152.3L767.0 148.4L768.0 146.7L769.0 143.3L770.0 141.6L771.0 138.3L772.0 136.8L773.0 130.3L774.0 127.8L775.0 122.4L775.5 110.0Z" fill="#7FFF7F"/>
<path d="M516.5 110.0L517.0 175.6L518.0 174.4L519.0 177.4L520.0 175.5L521.0 174.3L522.0 174.9L523.0 174.7L524.0 175.4L525.0 173.1L526.0 171.4L527.0 171.3L528.0 170.3L529.0 171.1L530.0 168.7L531.0 172.8L532.0 171.7L533.0 167.0L534.0 165.5L535.0 165.1L536.0 164.1L537.0 161.6L538.0 164.8L539.0 166.1L540.0 161.9L541.0 160.5L542.0 157.4L543.0 156.2L544.0 157.3L545.0 156.9L546.0 160.1L547.0 156.4L548.0 153.8L549.0 159.4L550.0 157.9L551.0 154.0L552.0 155.5L553.0 152.5L554.0 154.5L555.0 158.3L556.0 158.0L557.0 156.9L558.0 153.9L559.0 154.0L560.0 153.0L561.0 156.6L562.0 155.9L563.0 157.0L564.0 154.0L565.0 152.7L566.0 157.0L567.0 159.8L568.0 159.5L569.0 159.8L570.0 160.6L571.0 161.0L572.0 158.0L573.0 159.4L574.0 159.2L575.0 156.9L576.0 156.6L577.0 159.8L578.0 161.6L579.0 166.1L580.0 170.3L581.0 168.2L582.0 171.6L583.0 173.5L584.0 173.8L585.0 169.7L586.0 167.5L587.0 167.4L588.0 167.3L589.0 168.5L590.0 169.9L591.0 171.1L592.0 169.7L593.0 164.8L594.0 163.1L595.0 166.2L596.0 163.0L597.0 167.0L598.0 171.3L599.0 172.3L600.0 173.2L601.0 172.8L602.0 168.8L603.0 171.2L604.0 167.9L605.0 169.0L606.0 169.8L607.0 165.3L608.0 163.3L609.0 165.9L610.0 164.1L611.0 158.4L612.0 155.6L613.0 155.7L614.0 161.3L615.0 162.4L616.0 157.5L617.0 160.8L618.0 163.3L619.0 161.1L620.0 157.9L621.0 158.8L622.0 156.2L623.0 154.5L624.0 161.5L625.0 161.4L626.0 159.9L627.0 162.8L628.0 160.1L629.0 162.5L630.0 163.3L631.0 159.2L632.0 158.9L633.0 159.7L634.0 159.9L635.0 162.9L636.0 161.7L637.0 161.5L638.0 159.2L639.0 163.6L640.0 160.6L641.0 159.1L642.0 159.2L643.0 160.6L644.0 159.1L645.0 162.8L646.0 162.3L647.0 162.9L648.0 164.2L649.0 161.6L650.0 164.4L651.0 161.1L652.0 157.0L653.0 160.1L654.0 155.2L655.0 154.4L656.0 155.1L657.0 153.0L658.0 149.6L659.0 150.4L660.0 151.0L661.0 152.7L662.0 148.4L663.0 150.2L664.0 149.0L665.0 148.2L666.0 151.3L667.0 150.1L668.0 149.6L669.0 151.5L670.0 153.2L671.0 150.9L672.0 151.6L673.0 151.0L674.0 150.7L675.0 151.7L676.0 150.2L677.0 150.3L678.0 150.2L679.0 153.1L680.0 152.2L681.0 152.7L682.0 153.3L683.0 148.8L684.0 149.3L685.0 151.8L686.0 151.3L687.0 146.3L688.0 144.5L689.0 146.1L690.0 144.1L691.0 144.1L692.0 143.1L693.0 145.4L694.0 146.3L695.0 146.3L696.0 141.6L697.0 143.4L698.0 144.0L699.0 141.1L700.0 144.1L701.0 145.0L702.0 140.9L703.0 141.7L704.0 138.4L705.0 136.3L706.0 136.8L707.0 134.9L708.0 130.3L709.0 129.0L710.0 128.0L711.0 122.2L711.5 110.0ZM728.5 110.0L729.0 119.3L730.0 143.6L731.0 145.6L732.0 151.7L733.0 155.5L734.0 155.9L735.0 152.3L736.0 150.7L737.0 155.7L738.0 155.2L739.0 155.7L740.0 152.4L741.0 150.6L742.0 154.3L743.0 153.4L744.0 150.3L745.0 155.3L746.0 155.1L747.0 155.7L748.0 151.5L749.0 154.8L750.0 150.9L751.0 154.1L752.0 152.7L753.0 150.5L754.0 150.9L755.0 153.0L756.0 148.8L757.0 146.3L758.0 148.1L759.0 146.6L760.0 144.9L761.0 144.5L762.0 143.4L763.0 143.6L764.0 143.9L765.0 143.5L766.0 145.1L767.0 141.7L768.0 140.1L769.0 137.0L770.0 135.4L771.0 132.4L772.0 131.0L773.0 123.8L774.0 120.3L774.5 110.0Z" fill="#C8FF36"/>
<path d="M516.5 110.0L517.0 166.7L518.0 164.7L519.0 169.2L520.0 166.1L521.0 164.3L522.0 165.2L523.0 164.8L524.0 166.0L525.0 163.1L526.0 161.1L527.0 161.4L528.0 160.6L529.0 162.1L530.0 159.4L531.0 165.0L532.0 164.0L533.0 158.2L534.0 156.6L535.0 156.4L536.0 155.5L537.0 152.2L538.0 156.7L539.0 158.8L540.0 153.3L541.0 151.4L542.0 147.2L543.0 145.6L544.0 147.1L545.0 146.6L546.0 151.2L547.0 146.1L548.0 142.6L549.0 150.4L550.0 148.5L551.0 143.4L552.0 145.6L553.0 141.5L554.0 144.4L555.0 149.7L556.0 149.5L557.0 147.9L558.0 143.7L559.0 143.8L560.0 142.5L561.0 147.2L562.0 146.3L563.0 147.6L564.0 143.7L565.0 141.8L566.0 147.3L567.0 150.9L568.0 150.4L569.0 150.6L570.0 151.6L571.0 152.0L572.0 148.0L573.0 149.5L574.0 149.0L575.0 145.7L576.0 145.0L577.0 148.9L578.0 150.9L579.0 156.4L580.0 161.6L581.0 158.6L582.0 162.6L583.0 164.9L584.0 165.1L585.0 159.7L586.0 156.9L587.0 156.6L588.0 156.4L589.0 157.8L590.0 159.9L591.0 161.9L592.0 160.7L593.0 155.2L594.0 153.7L595.0 157.0L596.0 152.7L597.0 157.3L598.0 162.2L599.0 163.1L600.0 163.8L601.0 163.0L602.0 158.4L603.0 161.7L604.0 157.9L605.0 159.6L606.0 161.0L607.0 155.6L608.0 153.4L609.0 156.9L610.0 154.8L611.0 147.7L612.0 144.2L613.0 144.5L614.0 151.8L615.0 153.2L616.0 147.0L617.0 151.3L618.0 154.4L619.0 151.6L620.0 147.7L621.0 148.9L622.0 145.7L623.0 143.6L624.0 152.4L625.0 152.1L626.0 150.2L627.0 153.8L628.0 150.4L629.0 153.3L630.0 154.3L631.0 149.0L632.0 148.2L633.0 148.9L634.0 148.8L635.0 152.2L636.0 150.3L637.0 150.6L638.0 148.1L639.0 154.3L640.0 151.0L641.0 149.7L642.0 150.3L643.0 152.7L644.0 150.2L645.0 154.5L646.0 153.2L647.0 153.6L648.0 154.7L649.0 151.0L650.0 154.1L651.0 150.5L652.0 145.6L653.0 150.2L654.0 144.2L655.0 143.6L656.0 145.2L657.0 142.9L658.0 138.7L659.0 139.9L660.0 140.7L661.0 143.2L662.0 137.2L663.0 139.8L664.0 138.1L665.0 137.0L666.0 141.6L667.0 140.0L668.0 139.3L669.0 142.1L670.0 144.8L671.0 141.3L672.0 142.3L673.0 141.5L674.0 140.9L675.0 142.4L676.0 140.3L677.0 140.5L678.0 140.3L679.0 144.6L680.0 143.6L681.0 144.5L682.0 145.6L683.0 139.5L684.0 140.4L685.0 144.3L686.0 144.2L687.0 137.6L688.0 135.5L689.0 137.8L690.0 135.1L691.0 135.2L692.0 133.8L693.0 137.5L694.0 139.0L695.0 139.3L696.0 133.1L697.0 135.9L698.0 136.9L699.0 133.3L700.0 137.6L701.0 139.2L702.0 133.8L703.0 135.9L704.0 132.3L705.0 130.5L706.0 132.0L707.0 130.4L708.0 125.3L709.0 124.5L710.0 124.0L711.0 117.2L711.5 110.0ZM729.5 110.0L730.0 131.9L731.0 134.9L732.0 143.1L733.0 147.8L734.0 148.4L735.0 143.9L736.0 141.8L737.0 148.2L738.0 147.6L739.0 148.2L740.0 143.8L741.0 141.6L742.0 146.4L743.0 144.7L744.0 139.7L745.0 147.0L746.0 146.8L747.0 147.8L748.0 141.9L749.0 146.9L750.0 141.3L751.0 146.4L752.0 144.5L753.0 141.5L754.0 142.5L755.0 145.9L756.0 140.0L757.0 136.5L758.0 139.5L759.0 137.5L760.0 135.2L761.0 135.4L762.0 134.7L763.0 135.6L764.0 136.7L765.0 136.8L766.0 139.3L767.0 135.9L768.0 134.7L769.0 131.8L770.0 130.6L771.0 127.6L772.0 126.7L773.0 118.3L773.5 110.0Z" fill="#FFED00"/>
<path d="M516.5 110.0L517.0 149.6L518.0 147.5L519.0 152.2L520.0 148.9L521.0 147.0L522.0 148.0L523.0 147.6L524.0 148.8L525.0 146.1L526.0 144.3L527.0 145.1L528.0 144.5L529.0 146.4L530.0 143.9L531.0 150.1L532.0 148.8L533.0 142.6L534.0 140.9L535.0 140.5L536.0 139.4L537.0 136.1L538.0 140.8L539.0 143.0L540.0 137.4L541.0 135.4L542.0 130.9L543.0 129.1L544.0 130.8L545.0 130.3L546.0 135.6L547.0 129.9L548.0 125.8L549.0 135.1L550.0 132.9L551.0 127.0L552.0 129.6L553.0 125.0L554.0 128.4L555.0 134.3L556.0 134.1L557.0 132.4L558.0 127.7L559.0 127.7L560.0 126.3L561.0 131.5L562.0 130.5L563.0 131.9L564.0 127.6L565.0 125.5L566.0 131.5L567.0 135.2L568.0 134.6L569.0 134.8L570.0 135.8L571.0 136.0L572.0 132.0L573.0 133.5L574.0 133.0L575.0 129.7L576.0 129.0L577.0 132.9L578.0 134.9L579.0 140.4L580.0 145.6L581.0 142.6L582.0 146.6L583.0 149.1L584.0 149.7L585.0 144.5L586.0 142.0L587.0 142.0L588.0 142.2L589.0 143.8L590.0 145.7L591.0 147.5L592.0 146.1L593.0 140.4L594.0 138.7L595.0 142.2L596.0 138.0L597.0 142.7L598.0 147.8L599.0 148.8L600.0 149.6L601.0 149.0L602.0 144.2L603.0 147.3L604.0 143.3L605.0 144.8L606.0 146.0L607.0 140.4L608.0 138.0L609.0 141.4L610.0 139.2L611.0 131.8L612.0 128.2L613.0 128.5L614.0 135.8L615.0 137.2L616.0 131.0L617.0 135.3L618.0 138.4L619.0 135.6L620.0 131.7L621.0 132.9L622.0 129.7L623.0 127.6L624.0 136.4L625.0 136.1L626.0 134.2L627.0 137.8L628.0 134.4L629.0 137.3L630.0 138.3L631.0 133.0L632.0 132.2L633.0 133.0L634.0 132.9L635.0 136.1L636.0 134.5L637.0 134.7L638.0 132.1L639.0 138.7L640.0 135.2L641.0 133.8L642.0 134.8L643.0 138.4L644.0 134.8L645.0 140.2L646.0 138.5L647.0 138.9L648.0 140.3L649.0 136.3L650.0 140.0L651.0 135.4L652.0 129.6L653.0 133.9L654.0 126.9L655.0 126.2L656.0 127.7L657.0 125.1L658.0 120.7L659.0 121.9L660.0 122.7L661.0 125.2L662.0 119.2L663.0 121.8L664.0 120.1L665.0 119.0L666.0 123.6L667.0 122.0L668.0 121.3L669.0 124.0L670.0 126.7L671.0 123.4L672.0 124.6L673.0 123.9L674.0 123.4L675.0 125.1L676.0 123.1L677.0 123.4L678.0 123.3L679.0 127.8L680.0 127.0L681.0 128.1L682.0 129.3L683.0 123.3L684.0 124.4L685.0 128.6L686.0 128.4L687.0 121.5L688.0 119.2L689.0 122.0L690.0 119.3L691.0 119.7L692.0 118.5L693.0 122.8L694.0 124.8L695.0 125.5L696.0 118.9L697.0 122.4L698.0 123.9L699.0 120.1L700.0 125.4L701.0 127.6L702.0 121.8L703.0 124.9L704.0 121.5L705.0 120.0L706.0 122.8L707.0 121.7L707.5 110.0ZM730.5 110.0L731.0 118.6L732.0 129.1L733.0 133.7L734.0 134.1L735.0 129.1L736.0 126.5L737.0 133.5L738.0 132.6L739.0 133.2L740.0 127.8L741.0 124.8L742.0 130.5L743.0 128.1L744.0 122.1L745.0 130.3L746.0 130.1L747.0 131.3L748.0 124.6L749.0 130.0L750.0 123.7L751.0 128.9L752.0 126.6L753.0 123.5L754.0 124.5L755.0 128.0L756.0 122.0L757.0 118.4L758.0 121.5L759.0 119.5L760.0 117.2L761.0 118.7L762.0 119.3L763.0 121.6L764.0 124.0L765.0 125.5L766.0 129.3L767.0 126.0L768.0 125.1L769.0 122.1L770.0 121.1L771.0 117.9L772.0 117.2L772.5 110.0Z" fill="#FFA400"/>
<path d="M516.5 110.0L517.0 141.3L518.0 139.8L519.0 143.3L520.0 141.0L521.0 139.7L522.0 140.5L523.0 140.2L524.0 141.1L525.0 139.0L526.0 137.6L527.0 137.9L528.0 137.3L529.0 138.5L530.0 136.6L531.0 140.7L532.0 139.5L533.0 134.5L534.0 132.7L535.0 132.0L536.0 130.8L537.0 127.4L538.0 131.1L539.0 132.7L540.0 127.2L541.0 124.8L542.0 120.1L543.0 117.9L544.0 118.7L545.0 117.6L546.0 121.3L546.5 110.0ZM548.5 110.0L549.0 119.4L550.0 117.9L550.5 110.0ZM554.5 110.0L555.0 119.8L556.0 119.8L557.0 118.5L557.5 110.0ZM560.5 110.0L561.0 117.9L562.0 117.1L563.0 118.2L563.5 110.0ZM565.5 110.0L566.0 118.8L567.0 122.3L568.0 122.3L569.0 122.9L570.0 124.2L571.0 124.9L572.0 122.0L573.0 123.4L574.0 123.1L575.0 120.5L576.0 120.1L577.0 123.5L578.0 125.4L579.0 130.2L580.0 134.8L581.0 132.3L582.0 135.9L583.0 138.2L584.0 138.8L585.0 134.5L586.0 132.6L587.0 132.7L588.0 133.0L589.0 134.5L590.0 135.7L591.0 136.9L592.0 135.3L593.0 130.1L594.0 128.3L595.0 131.6L596.0 128.2L597.0 132.5L598.0 137.1L599.0 138.1L600.0 139.1L601.0 138.8L602.0 134.5L603.0 137.0L604.0 133.3L605.0 134.6L606.0 135.8L607.0 130.3L608.0 128.0L609.0 131.1L610.0 128.9L611.0 122.1L612.0 118.7L613.0 119.0L614.0 125.6L615.0 126.8L616.0 121.2L617.0 125.1L618.0 127.8L619.0 125.3L620.0 121.8L621.0 122.8L622.0 120.0L623.0 118.2L624.0 125.8L625.0 125.6L626.0 124.0L627.0 127.1L628.0 124.2L629.0 126.7L630.0 127.6L631.0 123.4L632.0 123.1L633.0 124.2L634.0 124.5L635.0 127.7L636.0 126.6L637.0 125.3L638.0 121.6L639.0 125.8L640.0 121.3L641.0 118.6L642.0 117.9L643.0 119.3L644.0 117.5L645.0 122.9L646.0 122.7L647.0 124.1L648.0 126.4L649.0 124.4L650.0 128.4L651.0 124.3L652.0 119.2L653.0 121.9L653.5 110.0ZM655.5 110.0L656.0 116.7L656.5 110.0ZM678.5 110.0L679.0 116.6L679.5 110.0ZM680.5 110.0L681.0 117.0L682.0 118.0L682.5 110.0ZM684.5 110.0L685.0 117.5L686.0 117.3L686.5 110.0ZM700.5 110.0L701.0 117.1L701.5 110.0ZM731.5 110.0L732.0 121.2L733.0 125.0L734.0 124.8L735.0 119.5L736.0 116.6L737.0 122.1L738.0 120.8L739.0 120.6L739.5 110.0ZM741.5 110.0L742.0 116.4L742.5 110.0ZM744.5 110.0L745.0 117.4L746.0 117.0L747.0 117.6L747.5 110.0ZM748.5 110.0L749.0 116.9L749.5 110.0ZM750.5 110.0L751.0 117.0L751.5 110.0ZM754.5 110.0L755.0 117.4L755.5 110.0ZM763.5 110.0L764.0 117.7L765.0 119.3L766.0 123.3L767.0 119.6L768.0 118.2L768.5 110.0Z" fill="#FF5B00"/>
<path d="M516.5 110.0L517.0 131.2L518.0 129.7L519.0 133.3L520.0 131.0L521.0 130.0L522.0 131.0L523.0 131.0L524.0 132.1L525.0 130.2L526.0 128.9L527.0 129.4L528.0 128.9L529.0 130.2L530.0 128.4L531.0 132.7L532.0 130.7L533.0 124.8L534.0 122.1L535.0 120.7L536.0 118.6L536.5 110.0ZM537.5 110.0L538.0 118.2L539.0 119.3L539.5 110.0ZM578.5 110.0L579.0 118.4L580.0 123.1L581.0 120.4L582.0 124.2L583.0 126.9L584.0 127.9L585.0 123.4L586.0 121.3L587.0 121.6L588.0 122.0L589.0 123.8L590.0 125.3L591.0 126.5L592.0 124.4L593.0 118.6L594.0 116.4L595.0 120.0L596.0 116.8L597.0 121.5L598.0 126.7L599.0 128.0L600.0 129.3L601.0 129.0L602.0 123.5L603.0 125.6L604.0 120.9L605.0 121.4L606.0 121.7L607.0 116.4L607.5 110.0ZM608.5 110.0L609.0 117.1L609.5 110.0ZM647.5 110.0L648.0 117.8L649.0 116.4L650.0 120.5L650.5 110.0Z" fill="#FF1200"/>
<path d="M516.5 110.0L517.0 121.4L518.0 120.5L519.0 124.1L520.0 122.5L521.0 121.6L522.0 122.4L523.0 122.4L524.0 123.4L525.0 121.6L526.0 120.4L527.0 120.7L528.0 120.3L529.0 121.4L530.0 119.7L531.0 123.7L532.0 121.3L532.5 110.0Z" fill="#C80000"/>
<path d="M518.5 110.0L519.0 116.5L519.5 110.0ZM523.5 110.0L524.0 116.4L524.5 110.0ZM530.5 110.0L531.0 116.7L531.5 110.0Z" fill="#7F0000"/>
<rect x="514.9" y="110.0" width="1.6" height="120.0" fill="#30C8FF" opacity="0.85"/>
<rect x="514.9" y="230.0" width="1.6" height="40.0" fill="#2090FF" opacity="0.70"/>
<rect x="185.0" y="116.0" width="5.0" height="90.0" fill="#0000C8" opacity="0.55"/>
<rect x="185.5" y="116.0" width="3.0" height="330.0" fill="#0000C8" opacity="0.25"/>
<rect x="257.5" y="116.0" width="1.2" height="34.0" fill="#0012FF" opacity="0.80"/>
<rect x="257.5" y="116.0" width="1.2" height="440.0" fill="#0000C8" opacity="0.45"/>
<rect x="278.0" y="116.0" width="2.2" height="52.0" fill="#0012FF" opacity="0.90"/>
<rect x="278.4" y="116.0" width="1.4" height="388.0" fill="#0000C8" opacity="0.50"/>
<rect x="264.0" y="116.0" width="10.0" height="30.0" fill="#0000C8" opacity="0.30"/>
<rect x="307.5" y="116.0" width="1.2" height="12.0" fill="#0000C8" opacity="0.80"/>
<rect x="332.8" y="116.0" width="1.4" height="54.0" fill="#005BFF" opacity="0.90"/>
<rect x="332.8" y="116.0" width="1.4" height="432.0" fill="#0000C8" opacity="0.55"/>
<rect x="335.0" y="116.0" width="8.0" height="30.0" fill="#0012FF" opacity="0.70"/>
<rect x="335.0" y="116.0" width="5.0" height="60.0" fill="#0000C8" opacity="0.70"/>
<rect x="381.5" y="116.0" width="1.2" height="12.0" fill="#0000C8" opacity="0.80"/>
</g><g filter="url(#bl2)">
<rect x="447.0" y="400.0" width="6.0" height="157.0" fill="#0000C8" opacity="0.70"/>
<rect x="508.0" y="430.0" width="7.0" height="127.0" fill="#0000C8" opacity="0.85"/>
<rect x="508.0" y="593.0" width="7.0" height="47.0" fill="#0000C8" opacity="0.80"/>
<rect x="522.0" y="430.0" width="6.0" height="107.0" fill="#0000C8" opacity="0.85"/>
<rect x="599.5" y="520.0" width="1.5" height="6.0" fill="#0000C8" opacity="0.70"/>
<rect x="523.0" y="685.0" width="5.5" height="30.0" fill="#0A0AE6" opacity="0.90"/>
<rect x="519.5" y="712.0" width="4.0" height="38.0" fill="#0A0AE6" opacity="0.80"/>
<rect x="523.0" y="706.0" width="11.0" height="46.0" fill="#0A0AE6" opacity="0.95"/>
<rect x="534.0" y="712.0" width="5.0" height="36.0" fill="#0A0AE6" opacity="0.85"/>
<rect x="581.5" y="712.0" width="5.0" height="38.0" fill="#0A0AE6" opacity="0.75"/>
<rect x="586.0" y="708.0" width="8.5" height="43.0" fill="#0A0AE6" opacity="0.90"/>
<rect x="594.5" y="716.0" width="3.0" height="30.0" fill="#0A0AE6" opacity="0.55"/>
<rect x="597.5" y="706.0" width="11.0" height="46.0" fill="#0A0AE6" opacity="0.95"/>
<rect x="608.5" y="712.0" width="8.0" height="38.0" fill="#0A0AE6" opacity="0.85"/>
<rect x="598.5" y="682.0" width="3.5" height="30.0" fill="#0A0AE6" opacity="0.90"/>
<rect x="599.5" y="715.0" width="2.0" height="30.0" fill="#0012FF" opacity="0.60"/>
<ellipse cx="623.0" cy="722.0" rx="3.5" ry="6.5" fill="#0A0AE6"/>
<ellipse cx="623.0" cy="741.0" rx="3.0" ry="5.0" fill="#0A0AE6"/>
<ellipse cx="636.0" cy="719.0" rx="5.5" ry="7.5" fill="#0A0AE6"/>
<ellipse cx="636.0" cy="741.0" rx="5.0" ry="7.5" fill="#0A0AE6"/>
<rect x="647.5" y="688.0" width="3.5" height="64.0" fill="#0A0AE6" opacity="0.95"/>
<rect x="651.0" y="718.0" width="2.5" height="9.0" fill="#0A0AE6" opacity="0.90"/>
<rect x="644.0" y="712.0" width="3.0" height="30.0" fill="#0A0AE6" opacity="0.60"/>
<ellipse cx="683.5" cy="723.0" rx="2.0" ry="4.0" fill="#0A0AE6" opacity="0.50"/>
</g></g>
<g stroke="#000" stroke-width="1" fill="none" shape-rendering="crispEdges">
<line x1="179.00" y1="764.5" x2="991.00" y2="764.5"/>
<line x1="179.50" y1="764.5" x2="179.50" y2="781.5"/>
<line x1="215.50" y1="764.5" x2="215.50" y2="781.5"/>
<line x1="250.50" y1="764.5" x2="250.50" y2="781.5"/>
<line x1="285.50" y1="764.5" x2="285.50" y2="781.5"/>
<line x1="320.50" y1="764.5" x2="320.50" y2="781.5"/>
<line x1="356.50" y1="764.5" x2="356.50" y2="781.5"/>
<line x1="391.50" y1="764.5" x2="391.50" y2="781.5"/>
<line x1="426.50" y1="764.5" x2="426.50" y2="781.5"/>
<line x1="461.50" y1="764.5" x2="461.50" y2="781.5"/>
<line x1="496.50" y1="764.5" x2="496.50" y2="781.5"/>
<line x1="532.50" y1="764.5" x2="532.50" y2="781.5"/>
<line x1="567.50" y1="764.5" x2="567.50" y2="781.5"/>
<line x1="602.50" y1="764.5" x2="602.50" y2="781.5"/>
<line x1="637.50" y1="764.5" x2="637.50" y2="781.5"/>
<line x1="673.50" y1="764.5" x2="673.50" y2="781.5"/>
<line x1="708.50" y1="764.5" x2="708.50" y2="781.5"/>
<line x1="743.50" y1="764.5" x2="743.50" y2="781.5"/>
<line x1="778.50" y1="764.5" x2="778.50" y2="781.5"/>
<line x1="814.50" y1="764.5" x2="814.50" y2="781.5"/>
<line x1="849.50" y1="764.5" x2="849.50" y2="781.5"/>
<line x1="884.50" y1="764.5" x2="884.50" y2="781.5"/>
<line x1="919.50" y1="764.5" x2="919.50" y2="781.5"/>
<line x1="955.50" y1="764.5" x2="955.50" y2="781.5"/>
<line x1="990.50" y1="764.5" x2="990.50" y2="781.5"/>
<line x1="179.5" y1="116" x2="179.5" y2="765"/>
<line x1="172.5" y1="764.50" x2="179.5" y2="764.50"/>
<line x1="172.5" y1="656.50" x2="179.5" y2="656.50"/>
<line x1="172.5" y1="548.50" x2="179.5" y2="548.50"/>
<line x1="172.5" y1="440.50" x2="179.5" y2="440.50"/>
<line x1="172.5" y1="332.50" x2="179.5" y2="332.50"/>
<line x1="172.5" y1="224.50" x2="179.5" y2="224.50"/>
<line x1="172.5" y1="116.50" x2="179.5" y2="116.50"/>
</g>
<g stroke="#000" stroke-width="1" shape-rendering="crispEdges">
<rect x="1031.5" y="721.30" width="24.0" height="43.20" fill="#00007F"/>
<rect x="1031.5" y="678.10" width="24.0" height="43.20" fill="#0000C8"/>
<rect x="1031.5" y="634.90" width="24.0" height="43.20" fill="#0012FF"/>
<rect x="1031.5" y="591.70" width="24.0" height="43.20" fill="#005BFF"/>
<rect x="1031.5" y="548.50" width="24.0" height="43.20" fill="#00A4FF"/>
<rect x="1031.5" y="505.30" width="24.0" height="43.20" fill="#00EDFF"/>
<rect x="1031.5" y="462.10" width="24.0" height="43.20" fill="#36FFC8"/>
<rect x="1031.5" y="418.90" width="24.0" height="43.20" fill="#7FFF7F"/>
<rect x="1031.5" y="375.70" width="24.0" height="43.20" fill="#C8FF36"/>
<rect x="1031.5" y="332.50" width="24.0" height="43.20" fill="#FFED00"/>
<rect x="1031.5" y="289.30" width="24.0" height="43.20" fill="#FFA400"/>
<rect x="1031.5" y="246.10" width="24.0" height="43.20" fill="#FF5B00"/>
<rect x="1031.5" y="202.90" width="24.0" height="43.20" fill="#FF1200"/>
<rect x="1031.5" y="159.70" width="24.0" height="43.20" fill="#C80000"/>
<rect x="1031.5" y="116.50" width="24.0" height="43.20" fill="#7F0000"/>
<line x1="1055.5" y1="764.50" x2="1063.5" y2="764.50"/>
<line x1="1055.5" y1="678.10" x2="1063.5" y2="678.10"/>
<line x1="1055.5" y1="591.70" x2="1063.5" y2="591.70"/>
<line x1="1055.5" y1="505.30" x2="1063.5" y2="505.30"/>
<line x1="1055.5" y1="418.90" x2="1063.5" y2="418.90"/>
<line x1="1055.5" y1="332.50" x2="1063.5" y2="332.50"/>
<line x1="1055.5" y1="246.10" x2="1063.5" y2="246.10"/>
<line x1="1055.5" y1="159.70" x2="1063.5" y2="159.70"/>
</g>
<rect x="1031" y="0" width="25" height="1" fill="#000"/>
<g font-family="'Liberation Sans', Arial, sans-serif" fill="#000">
<text x="598.5" y="92.7" font-size="14.8" font-weight="bold" text-anchor="middle">Liquid Water (g/m3)</text>
<text x="602.7" y="828.2" font-size="18.2" text-anchor="middle">Hours (UTC)</text>
<text transform="translate(87.5 548.5) rotate(-90)" font-size="18.3" text-anchor="middle">Height (km)</text>
<text x="164.6" y="771.8" font-size="18" text-anchor="end">0.0</text>
<text x="164.6" y="663.8" font-size="18" text-anchor="end">0.5</text>
<text x="164.6" y="555.8" font-size="18" text-anchor="end">1.0</text>
<text x="164.6" y="447.8" font-size="18" text-anchor="end">1.5</text>
<text x="164.6" y="339.8" font-size="18" text-anchor="end">2.0</text>
<text x="164.6" y="231.8" font-size="18" text-anchor="end">2.5</text>
<text x="164.6" y="123.8" font-size="18" text-anchor="end">3.0</text>
<text x="179.2" y="790.6" font-size="12" text-anchor="middle">00</text>
<text x="215.2" y="790.6" font-size="12" text-anchor="middle">01</text>
<text x="250.2" y="790.6" font-size="12" text-anchor="middle">02</text>
<text x="285.2" y="790.6" font-size="12" text-anchor="middle">03</text>
<text x="320.2" y="790.6" font-size="12" text-anchor="middle">04</text>
<text x="356.2" y="790.6" font-size="12" text-anchor="middle">05</text>
<text x="391.2" y="790.6" font-size="12" text-anchor="middle">06</text>
<text x="426.2" y="790.6" font-size="12" text-anchor="middle">07</text>
<text x="461.2" y="790.6" font-size="12" text-anchor="middle">08</text>
<text x="496.2" y="790.6" font-size="12" text-anchor="middle">09</text>
<text x="532.2" y="790.6" font-size="12" text-anchor="middle">10</text>
<text x="567.2" y="790.6" font-size="12" text-anchor="middle">11</text>
<text x="602.2" y="790.6" font-size="12" text-anchor="middle">12</text>
<text x="637.2" y="790.6" font-size="12" text-anchor="middle">13</text>
<text x="673.2" y="790.6" font-size="12" text-anchor="middle">14</text>
<text x="708.2" y="790.6" font-size="12" text-anchor="middle">15</text>
<text x="743.2" y="790.6" font-size="12" text-anchor="middle">16</text>
<text x="778.2" y="790.6" font-size="12" text-anchor="middle">17</text>
<text x="814.2" y="790.6" font-size="12" text-anchor="middle">18</text>
<text x="849.2" y="790.6" font-size="12" text-anchor="middle">19</text>
<text x="884.2" y="790.6" font-size="12" text-anchor="middle">20</text>
<text x="919.2" y="790.6" font-size="12" text-anchor="middle">21</text>
<text x="955.2" y="790.6" font-size="12" text-anchor="middle">22</text>
<text x="990.2" y="790.6" font-size="12" text-anchor="middle">23</text>
<text x="1070" y="773.1" font-size="18">0.0</text>
<text x="1070" y="686.7" font-size="18">0.1</text>
<text x="1070" y="600.3" font-size="18">0.2</text>
<text x="1070" y="513.9" font-size="18">0.3</text>
<text x="1070" y="427.5" font-size="18">0.4</text>
<text x="1070" y="341.1" font-size="18">0.5</text>
<text x="1070" y="254.7" font-size="18">0.6</text>
<text x="1070" y="168.3" font-size="18">0.7</text>
</g>
</svg>
</body></html>
